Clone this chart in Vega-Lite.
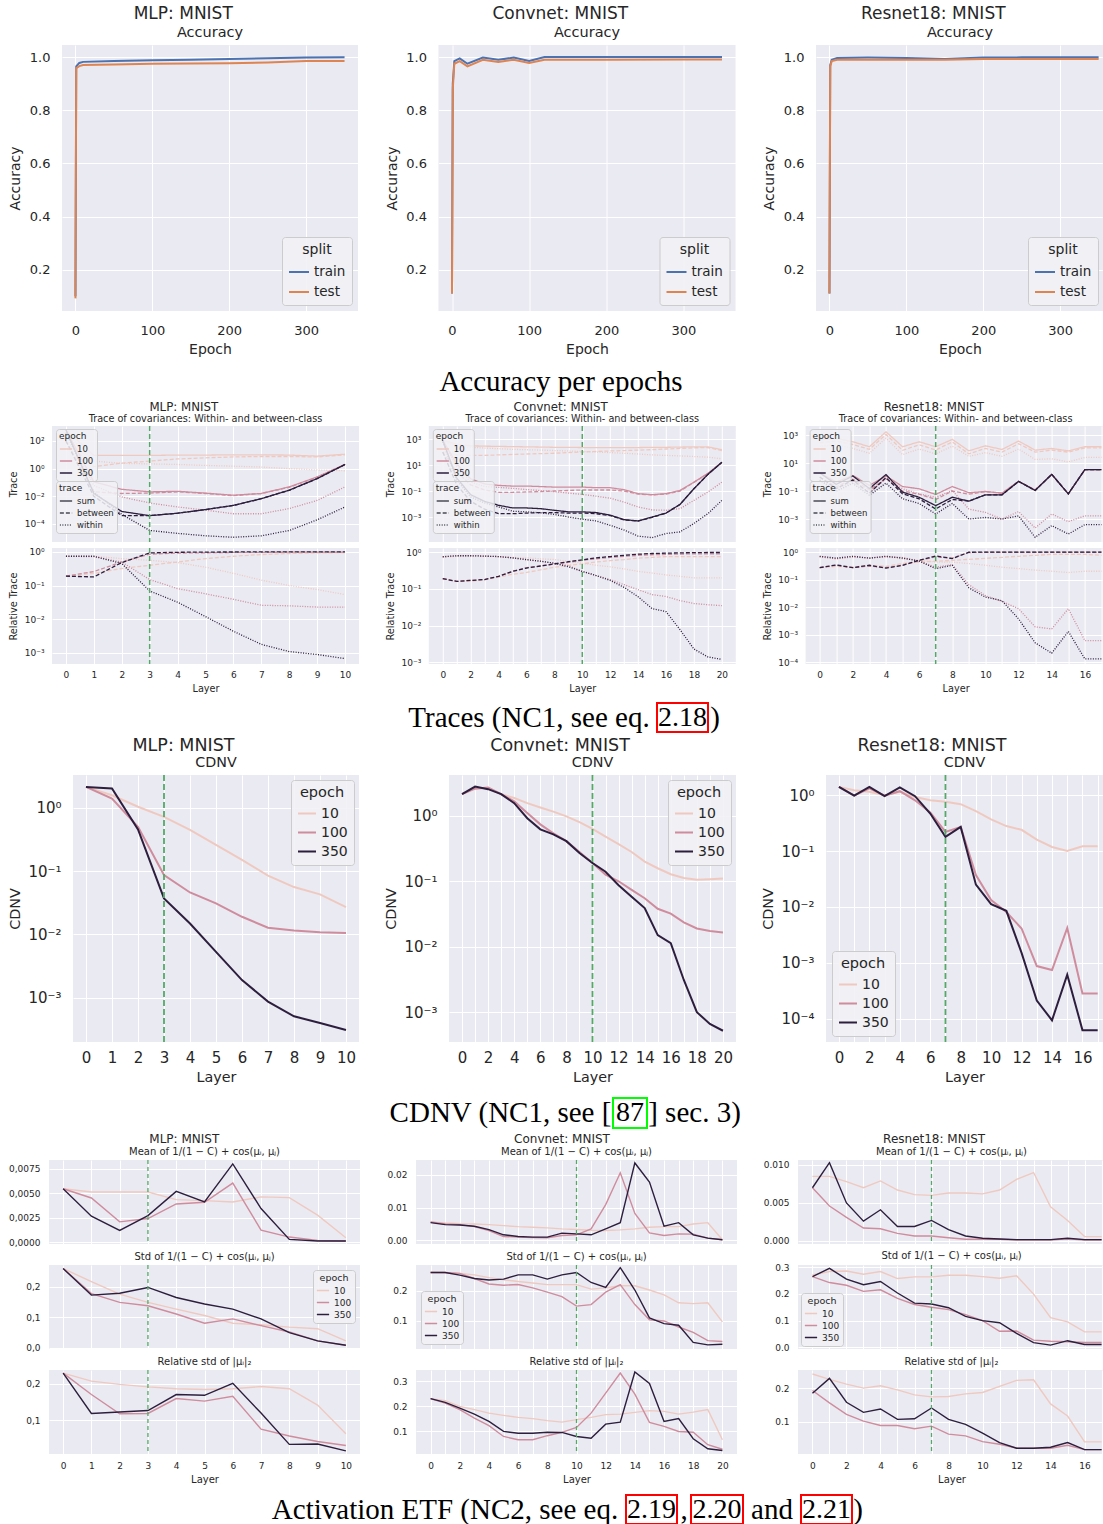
{
"$schema": "https://vega.github.io/schema/vega-lite/v6.json",
"background": "white",
"padding": {"left": 0, "top": 4, "right": 0, "bottom": 0},
"spacing": 4,
"resolve": {"scale": {"color": "independent", "strokeDash": "independent"}, "legend": {"color": "independent", "strokeDash": "independent"}},
"datasets": {
"acc": [
{"net":"MLP","split":"train","epoch":0,"value":0.1},{"net":"MLP","split":"train","epoch":1,"value":0.965},{"net":"MLP","split":"train","epoch":5,"value":0.978},{"net":"MLP","split":"train","epoch":10,"value":0.982},{"net":"MLP","split":"train","epoch":50,"value":0.985},{"net":"MLP","split":"train","epoch":100,"value":0.988},{"net":"MLP","split":"train","epoch":150,"value":0.99},{"net":"MLP","split":"train","epoch":200,"value":0.993},{"net":"MLP","split":"train","epoch":250,"value":0.996},{"net":"MLP","split":"train","epoch":300,"value":0.998},{"net":"MLP","split":"train","epoch":350,"value":0.999},
{"net":"MLP","split":"test","epoch":0,"value":0.092},{"net":"MLP","split":"test","epoch":1,"value":0.958},{"net":"MLP","split":"test","epoch":5,"value":0.966},{"net":"MLP","split":"test","epoch":10,"value":0.97},{"net":"MLP","split":"test","epoch":50,"value":0.972},{"net":"MLP","split":"test","epoch":100,"value":0.975},{"net":"MLP","split":"test","epoch":150,"value":0.976},{"net":"MLP","split":"test","epoch":200,"value":0.977},{"net":"MLP","split":"test","epoch":250,"value":0.98},{"net":"MLP","split":"test","epoch":300,"value":0.985},{"net":"MLP","split":"test","epoch":350,"value":0.985},
{"net":"Convnet","split":"train","epoch":0,"value":0.11},{"net":"Convnet","split":"train","epoch":1,"value":0.9},{"net":"Convnet","split":"train","epoch":3,"value":0.985},{"net":"Convnet","split":"train","epoch":10,"value":0.995},{"net":"Convnet","split":"train","epoch":20,"value":0.975},{"net":"Convnet","split":"train","epoch":40,"value":0.998},{"net":"Convnet","split":"train","epoch":60,"value":0.99},{"net":"Convnet","split":"train","epoch":80,"value":0.998},{"net":"Convnet","split":"train","epoch":100,"value":0.985},{"net":"Convnet","split":"train","epoch":120,"value":1.0},{"net":"Convnet","split":"train","epoch":200,"value":1.0},{"net":"Convnet","split":"train","epoch":300,"value":1.0},{"net":"Convnet","split":"train","epoch":350,"value":1.0},
{"net":"Convnet","split":"test","epoch":0,"value":0.11},{"net":"Convnet","split":"test","epoch":1,"value":0.88},{"net":"Convnet","split":"test","epoch":3,"value":0.975},{"net":"Convnet","split":"test","epoch":10,"value":0.985},{"net":"Convnet","split":"test","epoch":20,"value":0.965},{"net":"Convnet","split":"test","epoch":40,"value":0.99},{"net":"Convnet","split":"test","epoch":60,"value":0.982},{"net":"Convnet","split":"test","epoch":80,"value":0.99},{"net":"Convnet","split":"test","epoch":100,"value":0.978},{"net":"Convnet","split":"test","epoch":120,"value":0.99},{"net":"Convnet","split":"test","epoch":200,"value":0.99},{"net":"Convnet","split":"test","epoch":300,"value":0.991},{"net":"Convnet","split":"test","epoch":350,"value":0.991},
{"net":"Resnet18","split":"train","epoch":0,"value":0.11},{"net":"Resnet18","split":"train","epoch":1,"value":0.97},{"net":"Resnet18","split":"train","epoch":3,"value":0.99},{"net":"Resnet18","split":"train","epoch":10,"value":0.997},{"net":"Resnet18","split":"train","epoch":50,"value":0.998},{"net":"Resnet18","split":"train","epoch":100,"value":0.997},{"net":"Resnet18","split":"train","epoch":150,"value":0.993},{"net":"Resnet18","split":"train","epoch":200,"value":0.998},{"net":"Resnet18","split":"train","epoch":250,"value":0.999},{"net":"Resnet18","split":"train","epoch":350,"value":0.999},
{"net":"Resnet18","split":"test","epoch":0,"value":0.11},{"net":"Resnet18","split":"test","epoch":1,"value":0.965},{"net":"Resnet18","split":"test","epoch":3,"value":0.985},{"net":"Resnet18","split":"test","epoch":10,"value":0.99},{"net":"Resnet18","split":"test","epoch":50,"value":0.99},{"net":"Resnet18","split":"test","epoch":100,"value":0.99},{"net":"Resnet18","split":"test","epoch":150,"value":0.99},{"net":"Resnet18","split":"test","epoch":200,"value":0.993},{"net":"Resnet18","split":"test","epoch":250,"value":0.993},{"net":"Resnet18","split":"test","epoch":350,"value":0.993}
],
"trace_MLP": [
{"epoch":10,"kind":"sum","layer":0,"value":630},{"epoch":10,"kind":"sum","layer":1,"value":9},{"epoch":10,"kind":"sum","layer":2,"value":9},{"epoch":10,"kind":"sum","layer":3,"value":9},{"epoch":10,"kind":"sum","layer":4,"value":9.5},{"epoch":10,"kind":"sum","layer":5,"value":9.5},{"epoch":10,"kind":"sum","layer":6,"value":10},{"epoch":10,"kind":"sum","layer":7,"value":10},{"epoch":10,"kind":"sum","layer":8,"value":9.5},{"epoch":10,"kind":"sum","layer":9,"value":8},{"epoch":10,"kind":"sum","layer":10,"value":11},
{"epoch":10,"kind":"between","layer":0,"value":100},{"epoch":10,"kind":"between","layer":1,"value":1.4},{"epoch":10,"kind":"between","layer":2,"value":2.5},{"epoch":10,"kind":"between","layer":3,"value":3.5},{"epoch":10,"kind":"between","layer":4,"value":5},{"epoch":10,"kind":"between","layer":5,"value":6},{"epoch":10,"kind":"between","layer":6,"value":7},{"epoch":10,"kind":"between","layer":7,"value":7.5},{"epoch":10,"kind":"between","layer":8,"value":7.5},{"epoch":10,"kind":"between","layer":9,"value":7},{"epoch":10,"kind":"between","layer":10,"value":10},
{"epoch":10,"kind":"within","layer":0,"value":400},{"epoch":10,"kind":"within","layer":1,"value":3.5},{"epoch":10,"kind":"within","layer":2,"value":2.4},{"epoch":10,"kind":"within","layer":3,"value":2.2},{"epoch":10,"kind":"within","layer":4,"value":2.0},{"epoch":10,"kind":"within","layer":5,"value":1.7},{"epoch":10,"kind":"within","layer":6,"value":1.5},{"epoch":10,"kind":"within","layer":7,"value":1.3},{"epoch":10,"kind":"within","layer":8,"value":1.0},{"epoch":10,"kind":"within","layer":9,"value":0.8},{"epoch":10,"kind":"within","layer":10,"value":0.7},
{"epoch":100,"kind":"sum","layer":0,"value":630},{"epoch":100,"kind":"sum","layer":1,"value":0.11},{"epoch":100,"kind":"sum","layer":2,"value":0.032},{"epoch":100,"kind":"sum","layer":3,"value":0.021},{"epoch":100,"kind":"sum","layer":4,"value":0.023},{"epoch":100,"kind":"sum","layer":5,"value":0.017},{"epoch":100,"kind":"sum","layer":6,"value":0.012},{"epoch":100,"kind":"sum","layer":7,"value":0.016},{"epoch":100,"kind":"sum","layer":8,"value":0.048},{"epoch":100,"kind":"sum","layer":9,"value":0.25},{"epoch":100,"kind":"sum","layer":10,"value":2.0},
{"epoch":100,"kind":"between","layer":0,"value":100},{"epoch":100,"kind":"between","layer":1,"value":0.021},{"epoch":100,"kind":"between","layer":2,"value":0.016},{"epoch":100,"kind":"between","layer":3,"value":0.017},{"epoch":100,"kind":"between","layer":4,"value":0.021},{"epoch":100,"kind":"between","layer":5,"value":0.016},{"epoch":100,"kind":"between","layer":6,"value":0.011},{"epoch":100,"kind":"between","layer":7,"value":0.016},{"epoch":100,"kind":"between","layer":8,"value":0.045},{"epoch":100,"kind":"between","layer":9,"value":0.24},{"epoch":100,"kind":"between","layer":10,"value":2.0},
{"epoch":100,"kind":"within","layer":0,"value":400},{"epoch":100,"kind":"within","layer":1,"value":0.06},{"epoch":100,"kind":"within","layer":2,"value":0.009},{"epoch":100,"kind":"within","layer":3,"value":0.0033},{"epoch":100,"kind":"within","layer":4,"value":0.0017},{"epoch":100,"kind":"within","layer":5,"value":0.001},{"epoch":100,"kind":"within","layer":6,"value":0.00055},{"epoch":100,"kind":"within","layer":7,"value":0.00055},{"epoch":100,"kind":"within","layer":8,"value":0.0013},{"epoch":100,"kind":"within","layer":9,"value":0.005},{"epoch":100,"kind":"within","layer":10,"value":0.048},
{"epoch":350,"kind":"sum","layer":0,"value":630},{"epoch":350,"kind":"sum","layer":1,"value":0.016},{"epoch":350,"kind":"sum","layer":2,"value":0.0008},{"epoch":350,"kind":"sum","layer":3,"value":0.0004},{"epoch":350,"kind":"sum","layer":4,"value":0.0006},{"epoch":350,"kind":"sum","layer":5,"value":0.0011},{"epoch":350,"kind":"sum","layer":6,"value":0.0022},{"epoch":350,"kind":"sum","layer":7,"value":0.0068},{"epoch":350,"kind":"sum","layer":8,"value":0.028},{"epoch":350,"kind":"sum","layer":9,"value":0.19},{"epoch":350,"kind":"sum","layer":10,"value":2.0},
{"epoch":350,"kind":"between","layer":0,"value":100},{"epoch":350,"kind":"between","layer":1,"value":0.01},{"epoch":350,"kind":"between","layer":2,"value":0.0004},{"epoch":350,"kind":"between","layer":3,"value":0.0004},{"epoch":350,"kind":"between","layer":4,"value":0.0006},{"epoch":350,"kind":"between","layer":5,"value":0.0011},{"epoch":350,"kind":"between","layer":6,"value":0.0022},{"epoch":350,"kind":"between","layer":7,"value":0.0067},{"epoch":350,"kind":"between","layer":8,"value":0.027},{"epoch":350,"kind":"between","layer":9,"value":0.19},{"epoch":350,"kind":"between","layer":10,"value":2.0},
{"epoch":350,"kind":"within","layer":0,"value":400},{"epoch":350,"kind":"within","layer":1,"value":0.02},{"epoch":350,"kind":"within","layer":2,"value":0.0005},{"epoch":350,"kind":"within","layer":3,"value":0.000034},{"epoch":350,"kind":"within","layer":4,"value":0.000021},{"epoch":350,"kind":"within","layer":5,"value":0.000014},{"epoch":350,"kind":"within","layer":6,"value":0.000011},{"epoch":350,"kind":"within","layer":7,"value":0.000014},{"epoch":350,"kind":"within","layer":8,"value":0.000034},{"epoch":350,"kind":"within","layer":9,"value":0.0002},{"epoch":350,"kind":"within","layer":10,"value":0.0017}
],
"rel_MLP": [
{"epoch":10,"kind":"between","layer":0,"value":0.19},{"epoch":10,"kind":"between","layer":1,"value":0.23},{"epoch":10,"kind":"between","layer":2,"value":0.32},{"epoch":10,"kind":"between","layer":3,"value":0.4},{"epoch":10,"kind":"between","layer":4,"value":0.5},{"epoch":10,"kind":"between","layer":5,"value":0.63},{"epoch":10,"kind":"between","layer":6,"value":0.74},{"epoch":10,"kind":"between","layer":7,"value":0.83},{"epoch":10,"kind":"between","layer":8,"value":0.89},{"epoch":10,"kind":"between","layer":9,"value":0.93},{"epoch":10,"kind":"between","layer":10,"value":0.95},
{"epoch":10,"kind":"within","layer":0,"value":0.74},{"epoch":10,"kind":"within","layer":1,"value":0.74},{"epoch":10,"kind":"within","layer":2,"value":0.63},{"epoch":10,"kind":"within","layer":3,"value":0.56},{"epoch":10,"kind":"within","layer":4,"value":0.48},{"epoch":10,"kind":"within","layer":5,"value":0.35},{"epoch":10,"kind":"within","layer":6,"value":0.23},{"epoch":10,"kind":"within","layer":7,"value":0.145},{"epoch":10,"kind":"within","layer":8,"value":0.1},{"epoch":10,"kind":"within","layer":9,"value":0.076},{"epoch":10,"kind":"within","layer":10,"value":0.054},
{"epoch":100,"kind":"between","layer":0,"value":0.19},{"epoch":100,"kind":"between","layer":1,"value":0.26},{"epoch":100,"kind":"between","layer":2,"value":0.5},{"epoch":100,"kind":"between","layer":3,"value":0.85},{"epoch":100,"kind":"between","layer":4,"value":0.92},{"epoch":100,"kind":"between","layer":5,"value":0.94},{"epoch":100,"kind":"between","layer":6,"value":0.96},{"epoch":100,"kind":"between","layer":7,"value":0.97},{"epoch":100,"kind":"between","layer":8,"value":0.975},{"epoch":100,"kind":"between","layer":9,"value":0.975},{"epoch":100,"kind":"between","layer":10,"value":0.975},
{"epoch":100,"kind":"within","layer":0,"value":0.74},{"epoch":100,"kind":"within","layer":1,"value":0.72},{"epoch":100,"kind":"within","layer":2,"value":0.5},{"epoch":100,"kind":"within","layer":3,"value":0.15},{"epoch":100,"kind":"within","layer":4,"value":0.081},{"epoch":100,"kind":"within","layer":5,"value":0.057},{"epoch":100,"kind":"within","layer":6,"value":0.039},{"epoch":100,"kind":"within","layer":7,"value":0.026},{"epoch":100,"kind":"within","layer":8,"value":0.025},{"epoch":100,"kind":"within","layer":9,"value":0.023},{"epoch":100,"kind":"within","layer":10,"value":0.023},
{"epoch":350,"kind":"between","layer":0,"value":0.19},{"epoch":350,"kind":"between","layer":1,"value":0.18},{"epoch":350,"kind":"between","layer":2,"value":0.48},{"epoch":350,"kind":"between","layer":3,"value":0.93},{"epoch":350,"kind":"between","layer":4,"value":0.97},{"epoch":350,"kind":"between","layer":5,"value":0.985},{"epoch":350,"kind":"between","layer":6,"value":0.99},{"epoch":350,"kind":"between","layer":7,"value":0.995},{"epoch":350,"kind":"between","layer":8,"value":0.995},{"epoch":350,"kind":"between","layer":9,"value":0.995},{"epoch":350,"kind":"between","layer":10,"value":0.995},
{"epoch":350,"kind":"within","layer":0,"value":0.74},{"epoch":350,"kind":"within","layer":1,"value":0.74},{"epoch":350,"kind":"within","layer":2,"value":0.45},{"epoch":350,"kind":"within","layer":3,"value":0.069},{"epoch":350,"kind":"within","layer":4,"value":0.032},{"epoch":350,"kind":"within","layer":5,"value":0.012},{"epoch":350,"kind":"within","layer":6,"value":0.0044},{"epoch":350,"kind":"within","layer":7,"value":0.0018},{"epoch":350,"kind":"within","layer":8,"value":0.0011},{"epoch":350,"kind":"within","layer":9,"value":0.0009},{"epoch":350,"kind":"within","layer":10,"value":0.00068}
],
"trace_Convnet": [
{"epoch":10,"kind":"sum","layer":0,"value":800},{"epoch":10,"kind":"sum","layer":1,"value":400},{"epoch":10,"kind":"sum","layer":2,"value":300},{"epoch":10,"kind":"sum","layer":3,"value":280},{"epoch":10,"kind":"sum","layer":4,"value":270},{"epoch":10,"kind":"sum","layer":5,"value":260},{"epoch":10,"kind":"sum","layer":6,"value":250},{"epoch":10,"kind":"sum","layer":7,"value":240},{"epoch":10,"kind":"sum","layer":8,"value":230},{"epoch":10,"kind":"sum","layer":9,"value":230},{"epoch":10,"kind":"sum","layer":10,"value":220},{"epoch":10,"kind":"sum","layer":11,"value":220},{"epoch":10,"kind":"sum","layer":12,"value":220},{"epoch":10,"kind":"sum","layer":13,"value":220},{"epoch":10,"kind":"sum","layer":14,"value":220},{"epoch":10,"kind":"sum","layer":15,"value":230},{"epoch":10,"kind":"sum","layer":16,"value":230},{"epoch":10,"kind":"sum","layer":17,"value":240},{"epoch":10,"kind":"sum","layer":18,"value":250},{"epoch":10,"kind":"sum","layer":19,"value":250},{"epoch":10,"kind":"sum","layer":20,"value":150},
{"epoch":10,"kind":"between","layer":0,"value":100},{"epoch":10,"kind":"between","layer":1,"value":60},{"epoch":10,"kind":"between","layer":2,"value":55},{"epoch":10,"kind":"between","layer":3,"value":55},{"epoch":10,"kind":"between","layer":4,"value":60},{"epoch":10,"kind":"between","layer":5,"value":65},{"epoch":10,"kind":"between","layer":6,"value":70},{"epoch":10,"kind":"between","layer":7,"value":75},{"epoch":10,"kind":"between","layer":8,"value":80},{"epoch":10,"kind":"between","layer":9,"value":90},{"epoch":10,"kind":"between","layer":10,"value":100},{"epoch":10,"kind":"between","layer":11,"value":110},{"epoch":10,"kind":"between","layer":12,"value":120},{"epoch":10,"kind":"between","layer":13,"value":130},{"epoch":10,"kind":"between","layer":14,"value":140},{"epoch":10,"kind":"between","layer":15,"value":150},{"epoch":10,"kind":"between","layer":16,"value":170},{"epoch":10,"kind":"between","layer":17,"value":190},{"epoch":10,"kind":"between","layer":18,"value":210},{"epoch":10,"kind":"between","layer":19,"value":220},{"epoch":10,"kind":"between","layer":20,"value":130},
{"epoch":10,"kind":"within","layer":0,"value":600},{"epoch":10,"kind":"within","layer":1,"value":300},{"epoch":10,"kind":"within","layer":2,"value":230},{"epoch":10,"kind":"within","layer":3,"value":200},{"epoch":10,"kind":"within","layer":4,"value":180},{"epoch":10,"kind":"within","layer":5,"value":160},{"epoch":10,"kind":"within","layer":6,"value":150},{"epoch":10,"kind":"within","layer":7,"value":140},{"epoch":10,"kind":"within","layer":8,"value":130},{"epoch":10,"kind":"within","layer":9,"value":120},{"epoch":10,"kind":"within","layer":10,"value":110},{"epoch":10,"kind":"within","layer":11,"value":100},{"epoch":10,"kind":"within","layer":12,"value":90},{"epoch":10,"kind":"within","layer":13,"value":80},{"epoch":10,"kind":"within","layer":14,"value":70},{"epoch":10,"kind":"within","layer":15,"value":60},{"epoch":10,"kind":"within","layer":16,"value":55},{"epoch":10,"kind":"within","layer":17,"value":50},{"epoch":10,"kind":"within","layer":18,"value":45},{"epoch":10,"kind":"within","layer":19,"value":40},{"epoch":10,"kind":"within","layer":20,"value":30},
{"epoch":100,"kind":"sum","layer":0,"value":800},{"epoch":100,"kind":"sum","layer":1,"value":12},{"epoch":100,"kind":"sum","layer":2,"value":0.87},{"epoch":100,"kind":"sum","layer":3,"value":0.35},{"epoch":100,"kind":"sum","layer":4,"value":0.27},{"epoch":100,"kind":"sum","layer":5,"value":0.24},{"epoch":100,"kind":"sum","layer":6,"value":0.24},{"epoch":100,"kind":"sum","layer":7,"value":0.22},{"epoch":100,"kind":"sum","layer":8,"value":0.2},{"epoch":100,"kind":"sum","layer":9,"value":0.2},{"epoch":100,"kind":"sum","layer":10,"value":0.2},{"epoch":100,"kind":"sum","layer":11,"value":0.18},{"epoch":100,"kind":"sum","layer":12,"value":0.18},{"epoch":100,"kind":"sum","layer":13,"value":0.126},{"epoch":100,"kind":"sum","layer":14,"value":0.063},{"epoch":100,"kind":"sum","layer":15,"value":0.052},{"epoch":100,"kind":"sum","layer":16,"value":0.063},{"epoch":100,"kind":"sum","layer":17,"value":0.11},{"epoch":100,"kind":"sum","layer":18,"value":0.48},{"epoch":100,"kind":"sum","layer":19,"value":2.3},{"epoch":100,"kind":"sum","layer":20,"value":16},
{"epoch":100,"kind":"between","layer":0,"value":100},{"epoch":100,"kind":"between","layer":1,"value":3},{"epoch":100,"kind":"between","layer":2,"value":0.3},{"epoch":100,"kind":"between","layer":3,"value":0.12},{"epoch":100,"kind":"between","layer":4,"value":0.08},{"epoch":100,"kind":"between","layer":5,"value":0.08},{"epoch":100,"kind":"between","layer":6,"value":0.085},{"epoch":100,"kind":"between","layer":7,"value":0.09},{"epoch":100,"kind":"between","layer":8,"value":0.1},{"epoch":100,"kind":"between","layer":9,"value":0.11},{"epoch":100,"kind":"between","layer":10,"value":0.12},{"epoch":100,"kind":"between","layer":11,"value":0.12},{"epoch":100,"kind":"between","layer":12,"value":0.12},{"epoch":100,"kind":"between","layer":13,"value":0.1},{"epoch":100,"kind":"between","layer":14,"value":0.058},{"epoch":100,"kind":"between","layer":15,"value":0.05},{"epoch":100,"kind":"between","layer":16,"value":0.058},{"epoch":100,"kind":"between","layer":17,"value":0.1},{"epoch":100,"kind":"between","layer":18,"value":0.46},{"epoch":100,"kind":"between","layer":19,"value":2.2},{"epoch":100,"kind":"between","layer":20,"value":16},
{"epoch":100,"kind":"within","layer":0,"value":600},{"epoch":100,"kind":"within","layer":1,"value":8},{"epoch":100,"kind":"within","layer":2,"value":0.5},{"epoch":100,"kind":"within","layer":3,"value":0.22},{"epoch":100,"kind":"within","layer":4,"value":0.19},{"epoch":100,"kind":"within","layer":5,"value":0.16},{"epoch":100,"kind":"within","layer":6,"value":0.13},{"epoch":100,"kind":"within","layer":7,"value":0.11},{"epoch":100,"kind":"within","layer":8,"value":0.09},{"epoch":100,"kind":"within","layer":9,"value":0.07},{"epoch":100,"kind":"within","layer":10,"value":0.055},{"epoch":100,"kind":"within","layer":11,"value":0.04},{"epoch":100,"kind":"within","layer":12,"value":0.028},{"epoch":100,"kind":"within","layer":13,"value":0.014},{"epoch":100,"kind":"within","layer":14,"value":0.0059},{"epoch":100,"kind":"within","layer":15,"value":0.0035},{"epoch":100,"kind":"within","layer":16,"value":0.0033},{"epoch":100,"kind":"within","layer":17,"value":0.0044},{"epoch":100,"kind":"within","layer":18,"value":0.019},{"epoch":100,"kind":"within","layer":19,"value":0.083},{"epoch":100,"kind":"within","layer":20,"value":0.48},
{"epoch":350,"kind":"sum","layer":0,"value":800},{"epoch":350,"kind":"sum","layer":1,"value":1.0},{"epoch":350,"kind":"sum","layer":2,"value":0.052},{"epoch":350,"kind":"sum","layer":3,"value":0.016},{"epoch":350,"kind":"sum","layer":4,"value":0.008},{"epoch":350,"kind":"sum","layer":5,"value":0.005},{"epoch":350,"kind":"sum","layer":6,"value":0.005},{"epoch":350,"kind":"sum","layer":7,"value":0.0044},{"epoch":350,"kind":"sum","layer":8,"value":0.0033},{"epoch":350,"kind":"sum","layer":9,"value":0.0025},{"epoch":350,"kind":"sum","layer":10,"value":0.0025},{"epoch":350,"kind":"sum","layer":11,"value":0.0022},{"epoch":350,"kind":"sum","layer":12,"value":0.0014},{"epoch":350,"kind":"sum","layer":13,"value":0.00063},{"epoch":350,"kind":"sum","layer":14,"value":0.0005},{"epoch":350,"kind":"sum","layer":15,"value":0.001},{"epoch":350,"kind":"sum","layer":16,"value":0.002},{"epoch":350,"kind":"sum","layer":17,"value":0.0093},{"epoch":350,"kind":"sum","layer":18,"value":0.15},{"epoch":350,"kind":"sum","layer":19,"value":1.9},{"epoch":350,"kind":"sum","layer":20,"value":16},
{"epoch":350,"kind":"between","layer":0,"value":100},{"epoch":350,"kind":"between","layer":1,"value":0.3},{"epoch":350,"kind":"between","layer":2,"value":0.016},{"epoch":350,"kind":"between","layer":3,"value":0.004},{"epoch":350,"kind":"between","layer":4,"value":0.0018},{"epoch":350,"kind":"between","layer":5,"value":0.0018},{"epoch":350,"kind":"between","layer":6,"value":0.002},{"epoch":350,"kind":"between","layer":7,"value":0.0022},{"epoch":350,"kind":"between","layer":8,"value":0.0022},{"epoch":350,"kind":"between","layer":9,"value":0.002},{"epoch":350,"kind":"between","layer":10,"value":0.002},{"epoch":350,"kind":"between","layer":11,"value":0.0018},{"epoch":350,"kind":"between","layer":12,"value":0.0013},{"epoch":350,"kind":"between","layer":13,"value":0.0006},{"epoch":350,"kind":"between","layer":14,"value":0.00048},{"epoch":350,"kind":"between","layer":15,"value":0.00095},{"epoch":350,"kind":"between","layer":16,"value":0.002},{"epoch":350,"kind":"between","layer":17,"value":0.0093},{"epoch":350,"kind":"between","layer":18,"value":0.15},{"epoch":350,"kind":"between","layer":19,"value":1.9},{"epoch":350,"kind":"between","layer":20,"value":16},
{"epoch":350,"kind":"within","layer":0,"value":600},{"epoch":350,"kind":"within","layer":1,"value":0.7},{"epoch":350,"kind":"within","layer":2,"value":0.035},{"epoch":350,"kind":"within","layer":3,"value":0.012},{"epoch":350,"kind":"within","layer":4,"value":0.006},{"epoch":350,"kind":"within","layer":5,"value":0.0028},{"epoch":350,"kind":"within","layer":6,"value":0.0025},{"epoch":350,"kind":"within","layer":7,"value":0.0021},{"epoch":350,"kind":"within","layer":8,"value":0.0016},{"epoch":350,"kind":"within","layer":9,"value":0.001},{"epoch":350,"kind":"within","layer":10,"value":0.00068},{"epoch":350,"kind":"within","layer":11,"value":0.0005},{"epoch":350,"kind":"within","layer":12,"value":0.00023},{"epoch":350,"kind":"within","layer":13,"value":0.0001},{"epoch":350,"kind":"within","layer":14,"value":0.000034},{"epoch":350,"kind":"within","layer":15,"value":0.000026},{"epoch":350,"kind":"within","layer":16,"value":0.000054},{"epoch":350,"kind":"within","layer":17,"value":0.000072},{"epoch":350,"kind":"within","layer":18,"value":0.00032},{"epoch":350,"kind":"within","layer":19,"value":0.0018},{"epoch":350,"kind":"within","layer":20,"value":0.019}
],
"rel_Convnet": [
{"epoch":10,"kind":"between","layer":0,"value":0.19},{"epoch":10,"kind":"between","layer":1,"value":0.16},{"epoch":10,"kind":"between","layer":2,"value":0.16},{"epoch":10,"kind":"between","layer":3,"value":0.18},{"epoch":10,"kind":"between","layer":4,"value":0.21},{"epoch":10,"kind":"between","layer":5,"value":0.25},{"epoch":10,"kind":"between","layer":6,"value":0.28},{"epoch":10,"kind":"between","layer":7,"value":0.33},{"epoch":10,"kind":"between","layer":8,"value":0.39},{"epoch":10,"kind":"between","layer":9,"value":0.44},{"epoch":10,"kind":"between","layer":10,"value":0.48},{"epoch":10,"kind":"between","layer":11,"value":0.54},{"epoch":10,"kind":"between","layer":12,"value":0.59},{"epoch":10,"kind":"between","layer":13,"value":0.63},{"epoch":10,"kind":"between","layer":14,"value":0.69},{"epoch":10,"kind":"between","layer":15,"value":0.72},{"epoch":10,"kind":"between","layer":16,"value":0.76},{"epoch":10,"kind":"between","layer":17,"value":0.76},{"epoch":10,"kind":"between","layer":18,"value":0.76},{"epoch":10,"kind":"between","layer":19,"value":0.76},{"epoch":10,"kind":"between","layer":20,"value":0.76},
{"epoch":10,"kind":"within","layer":0,"value":0.72},{"epoch":10,"kind":"within","layer":1,"value":0.78},{"epoch":10,"kind":"within","layer":2,"value":0.8},{"epoch":10,"kind":"within","layer":3,"value":0.78},{"epoch":10,"kind":"within","layer":4,"value":0.76},{"epoch":10,"kind":"within","layer":5,"value":0.72},{"epoch":10,"kind":"within","layer":6,"value":0.7},{"epoch":10,"kind":"within","layer":7,"value":0.66},{"epoch":10,"kind":"within","layer":8,"value":0.63},{"epoch":10,"kind":"within","layer":9,"value":0.56},{"epoch":10,"kind":"within","layer":10,"value":0.5},{"epoch":10,"kind":"within","layer":11,"value":0.44},{"epoch":10,"kind":"within","layer":12,"value":0.4},{"epoch":10,"kind":"within","layer":13,"value":0.35},{"epoch":10,"kind":"within","layer":14,"value":0.3},{"epoch":10,"kind":"within","layer":15,"value":0.27},{"epoch":10,"kind":"within","layer":16,"value":0.24},{"epoch":10,"kind":"within","layer":17,"value":0.22},{"epoch":10,"kind":"within","layer":18,"value":0.2},{"epoch":10,"kind":"within","layer":19,"value":0.2},{"epoch":10,"kind":"within","layer":20,"value":0.2},
{"epoch":100,"kind":"between","layer":0,"value":0.19},{"epoch":100,"kind":"between","layer":1,"value":0.16},{"epoch":100,"kind":"between","layer":2,"value":0.17},{"epoch":100,"kind":"between","layer":3,"value":0.18},{"epoch":100,"kind":"between","layer":4,"value":0.22},{"epoch":100,"kind":"between","layer":5,"value":0.3},{"epoch":100,"kind":"between","layer":6,"value":0.38},{"epoch":100,"kind":"between","layer":7,"value":0.42},{"epoch":100,"kind":"between","layer":8,"value":0.47},{"epoch":100,"kind":"between","layer":9,"value":0.53},{"epoch":100,"kind":"between","layer":10,"value":0.6},{"epoch":100,"kind":"between","layer":11,"value":0.66},{"epoch":100,"kind":"between","layer":12,"value":0.72},{"epoch":100,"kind":"between","layer":13,"value":0.77},{"epoch":100,"kind":"between","layer":14,"value":0.82},{"epoch":100,"kind":"between","layer":15,"value":0.85},{"epoch":100,"kind":"between","layer":16,"value":0.87},{"epoch":100,"kind":"between","layer":17,"value":0.89},{"epoch":100,"kind":"between","layer":18,"value":0.9},{"epoch":100,"kind":"between","layer":19,"value":0.9},{"epoch":100,"kind":"between","layer":20,"value":0.9},
{"epoch":100,"kind":"within","layer":0,"value":0.75},{"epoch":100,"kind":"within","layer":1,"value":0.8},{"epoch":100,"kind":"within","layer":2,"value":0.8},{"epoch":100,"kind":"within","layer":3,"value":0.78},{"epoch":100,"kind":"within","layer":4,"value":0.76},{"epoch":100,"kind":"within","layer":5,"value":0.7},{"epoch":100,"kind":"within","layer":6,"value":0.62},{"epoch":100,"kind":"within","layer":7,"value":0.56},{"epoch":100,"kind":"within","layer":8,"value":0.5},{"epoch":100,"kind":"within","layer":9,"value":0.43},{"epoch":100,"kind":"within","layer":10,"value":0.3},{"epoch":100,"kind":"within","layer":11,"value":0.23},{"epoch":100,"kind":"within","layer":12,"value":0.18},{"epoch":100,"kind":"within","layer":13,"value":0.13},{"epoch":100,"kind":"within","layer":14,"value":0.095},{"epoch":100,"kind":"within","layer":15,"value":0.07},{"epoch":100,"kind":"within","layer":16,"value":0.062},{"epoch":100,"kind":"within","layer":17,"value":0.048},{"epoch":100,"kind":"within","layer":18,"value":0.04},{"epoch":100,"kind":"within","layer":19,"value":0.037},{"epoch":100,"kind":"within","layer":20,"value":0.035},
{"epoch":350,"kind":"between","layer":0,"value":0.19},{"epoch":350,"kind":"between","layer":1,"value":0.16},{"epoch":350,"kind":"between","layer":2,"value":0.17},{"epoch":350,"kind":"between","layer":3,"value":0.18},{"epoch":350,"kind":"between","layer":4,"value":0.22},{"epoch":350,"kind":"between","layer":5,"value":0.3},{"epoch":350,"kind":"between","layer":6,"value":0.37},{"epoch":350,"kind":"between","layer":7,"value":0.42},{"epoch":350,"kind":"between","layer":8,"value":0.48},{"epoch":350,"kind":"between","layer":9,"value":0.55},{"epoch":350,"kind":"between","layer":10,"value":0.62},{"epoch":350,"kind":"between","layer":11,"value":0.7},{"epoch":350,"kind":"between","layer":12,"value":0.76},{"epoch":350,"kind":"between","layer":13,"value":0.82},{"epoch":350,"kind":"between","layer":14,"value":0.88},{"epoch":350,"kind":"between","layer":15,"value":0.92},{"epoch":350,"kind":"between","layer":16,"value":0.94},{"epoch":350,"kind":"between","layer":17,"value":0.96},{"epoch":350,"kind":"between","layer":18,"value":0.97},{"epoch":350,"kind":"between","layer":19,"value":0.98},{"epoch":350,"kind":"between","layer":20,"value":0.98},
{"epoch":350,"kind":"within","layer":0,"value":0.75},{"epoch":350,"kind":"within","layer":1,"value":0.8},{"epoch":350,"kind":"within","layer":2,"value":0.8},{"epoch":350,"kind":"within","layer":3,"value":0.78},{"epoch":350,"kind":"within","layer":4,"value":0.76},{"epoch":350,"kind":"within","layer":5,"value":0.7},{"epoch":350,"kind":"within","layer":6,"value":0.63},{"epoch":350,"kind":"within","layer":7,"value":0.57},{"epoch":350,"kind":"within","layer":8,"value":0.5},{"epoch":350,"kind":"within","layer":9,"value":0.4},{"epoch":350,"kind":"within","layer":10,"value":0.3},{"epoch":350,"kind":"within","layer":11,"value":0.23},{"epoch":350,"kind":"within","layer":12,"value":0.17},{"epoch":350,"kind":"within","layer":13,"value":0.11},{"epoch":350,"kind":"within","layer":14,"value":0.061},{"epoch":350,"kind":"within","layer":15,"value":0.029},{"epoch":350,"kind":"within","layer":16,"value":0.024},{"epoch":350,"kind":"within","layer":17,"value":0.0078},{"epoch":350,"kind":"within","layer":18,"value":0.0023},{"epoch":350,"kind":"within","layer":19,"value":0.0014},{"epoch":350,"kind":"within","layer":20,"value":0.0012}
],
"trace_Resnet18": [
{"epoch":10,"kind":"sum","layer":0,"value":440},{"epoch":10,"kind":"sum","layer":1,"value":580},{"epoch":10,"kind":"sum","layer":2,"value":330},{"epoch":10,"kind":"sum","layer":3,"value":145},{"epoch":10,"kind":"sum","layer":4,"value":1700},{"epoch":10,"kind":"sum","layer":5,"value":145},{"epoch":10,"kind":"sum","layer":6,"value":330},{"epoch":10,"kind":"sum","layer":7,"value":145},{"epoch":10,"kind":"sum","layer":8,"value":490},{"epoch":10,"kind":"sum","layer":9,"value":74},{"epoch":10,"kind":"sum","layer":10,"value":170},{"epoch":10,"kind":"sum","layer":11,"value":93},{"epoch":10,"kind":"sum","layer":12,"value":370},{"epoch":10,"kind":"sum","layer":13,"value":83},{"epoch":10,"kind":"sum","layer":14,"value":110},{"epoch":10,"kind":"sum","layer":15,"value":74},{"epoch":10,"kind":"sum","layer":16,"value":145},{"epoch":10,"kind":"sum","layer":17,"value":145},
{"epoch":10,"kind":"between","layer":0,"value":280},{"epoch":10,"kind":"between","layer":1,"value":370},{"epoch":10,"kind":"between","layer":2,"value":210},{"epoch":10,"kind":"between","layer":3,"value":95},{"epoch":10,"kind":"between","layer":4,"value":1100},{"epoch":10,"kind":"between","layer":5,"value":80},{"epoch":10,"kind":"between","layer":6,"value":200},{"epoch":10,"kind":"between","layer":7,"value":85},{"epoch":10,"kind":"between","layer":8,"value":320},{"epoch":10,"kind":"between","layer":9,"value":45},{"epoch":10,"kind":"between","layer":10,"value":110},{"epoch":10,"kind":"between","layer":11,"value":60},{"epoch":10,"kind":"between","layer":12,"value":240},{"epoch":10,"kind":"between","layer":13,"value":60},{"epoch":10,"kind":"between","layer":14,"value":85},{"epoch":10,"kind":"between","layer":15,"value":60},{"epoch":10,"kind":"between","layer":16,"value":120},{"epoch":10,"kind":"between","layer":17,"value":120},
{"epoch":10,"kind":"within","layer":0,"value":160},{"epoch":10,"kind":"within","layer":1,"value":200},{"epoch":10,"kind":"within","layer":2,"value":110},{"epoch":10,"kind":"within","layer":3,"value":50},{"epoch":10,"kind":"within","layer":4,"value":600},{"epoch":10,"kind":"within","layer":5,"value":40},{"epoch":10,"kind":"within","layer":6,"value":100},{"epoch":10,"kind":"within","layer":7,"value":45},{"epoch":10,"kind":"within","layer":8,"value":160},{"epoch":10,"kind":"within","layer":9,"value":30},{"epoch":10,"kind":"within","layer":10,"value":55},{"epoch":10,"kind":"within","layer":11,"value":30},{"epoch":10,"kind":"within","layer":12,"value":100},{"epoch":10,"kind":"within","layer":13,"value":18},{"epoch":10,"kind":"within","layer":14,"value":20},{"epoch":10,"kind":"within","layer":15,"value":12},{"epoch":10,"kind":"within","layer":16,"value":25},{"epoch":10,"kind":"within","layer":17,"value":25},
{"epoch":100,"kind":"sum","layer":0,"value":2.0},{"epoch":100,"kind":"sum","layer":1,"value":0.44},{"epoch":100,"kind":"sum","layer":2,"value":1.3},{"epoch":100,"kind":"sum","layer":3,"value":0.25},{"epoch":100,"kind":"sum","layer":4,"value":1.2},{"epoch":100,"kind":"sum","layer":5,"value":0.21},{"epoch":100,"kind":"sum","layer":6,"value":0.145},{"epoch":100,"kind":"sum","layer":7,"value":0.057},{"epoch":100,"kind":"sum","layer":8,"value":0.21},{"epoch":100,"kind":"sum","layer":9,"value":0.076},{"epoch":100,"kind":"sum","layer":10,"value":0.094},{"epoch":100,"kind":"sum","layer":11,"value":0.071},{"epoch":100,"kind":"sum","layer":12,"value":0.49},{"epoch":100,"kind":"sum","layer":13,"value":0.12},{"epoch":100,"kind":"sum","layer":14,"value":1.55},{"epoch":100,"kind":"sum","layer":15,"value":0.063},{"epoch":100,"kind":"sum","layer":16,"value":3.4},{"epoch":100,"kind":"sum","layer":17,"value":3.4},
{"epoch":100,"kind":"between","layer":0,"value":1.0},{"epoch":100,"kind":"between","layer":1,"value":0.2},{"epoch":100,"kind":"between","layer":2,"value":0.7},{"epoch":100,"kind":"between","layer":3,"value":0.12},{"epoch":100,"kind":"between","layer":4,"value":0.8},{"epoch":100,"kind":"between","layer":5,"value":0.1},{"epoch":100,"kind":"between","layer":6,"value":0.06},{"epoch":100,"kind":"between","layer":7,"value":0.025},{"epoch":100,"kind":"between","layer":8,"value":0.1},{"epoch":100,"kind":"between","layer":9,"value":0.06},{"epoch":100,"kind":"between","layer":10,"value":0.09},{"epoch":100,"kind":"between","layer":11,"value":0.07},{"epoch":100,"kind":"between","layer":12,"value":0.49},{"epoch":100,"kind":"between","layer":13,"value":0.12},{"epoch":100,"kind":"between","layer":14,"value":1.55},{"epoch":100,"kind":"between","layer":15,"value":0.063},{"epoch":100,"kind":"between","layer":16,"value":3.4},{"epoch":100,"kind":"between","layer":17,"value":3.4},
{"epoch":100,"kind":"within","layer":0,"value":0.6},{"epoch":100,"kind":"within","layer":1,"value":0.15},{"epoch":100,"kind":"within","layer":2,"value":0.4},{"epoch":100,"kind":"within","layer":3,"value":0.08},{"epoch":100,"kind":"within","layer":4,"value":0.76},{"epoch":100,"kind":"within","layer":5,"value":0.145},{"epoch":100,"kind":"within","layer":6,"value":0.063},{"epoch":100,"kind":"within","layer":7,"value":0.036},{"epoch":100,"kind":"within","layer":8,"value":0.11},{"epoch":100,"kind":"within","layer":9,"value":0.0052},{"epoch":100,"kind":"within","layer":10,"value":0.003},{"epoch":100,"kind":"within","layer":11,"value":0.001},{"epoch":100,"kind":"within","layer":12,"value":0.0034},{"epoch":100,"kind":"within","layer":13,"value":0.00023},{"epoch":100,"kind":"within","layer":14,"value":0.0023},{"epoch":100,"kind":"within","layer":15,"value":0.00065},{"epoch":100,"kind":"within","layer":16,"value":0.0017},{"epoch":100,"kind":"within","layer":17,"value":0.0017},
{"epoch":350,"kind":"sum","layer":0,"value":2.0},{"epoch":350,"kind":"sum","layer":1,"value":0.3},{"epoch":350,"kind":"sum","layer":2,"value":1.2},{"epoch":350,"kind":"sum","layer":3,"value":0.15},{"epoch":350,"kind":"sum","layer":4,"value":1.5},{"epoch":350,"kind":"sum","layer":5,"value":0.083},{"epoch":350,"kind":"sum","layer":6,"value":0.036},{"epoch":350,"kind":"sum","layer":7,"value":0.0091},{"epoch":350,"kind":"sum","layer":8,"value":0.036},{"epoch":350,"kind":"sum","layer":9,"value":0.019},{"epoch":350,"kind":"sum","layer":10,"value":0.054},{"epoch":350,"kind":"sum","layer":11,"value":0.054},{"epoch":350,"kind":"sum","layer":12,"value":0.49},{"epoch":350,"kind":"sum","layer":13,"value":0.11},{"epoch":350,"kind":"sum","layer":14,"value":1.55},{"epoch":350,"kind":"sum","layer":15,"value":0.063},{"epoch":350,"kind":"sum","layer":16,"value":3.4},{"epoch":350,"kind":"sum","layer":17,"value":3.4},
{"epoch":350,"kind":"between","layer":0,"value":1.0},{"epoch":350,"kind":"between","layer":1,"value":0.15},{"epoch":350,"kind":"between","layer":2,"value":0.6},{"epoch":350,"kind":"between","layer":3,"value":0.07},{"epoch":350,"kind":"between","layer":4,"value":0.9},{"epoch":350,"kind":"between","layer":5,"value":0.063},{"epoch":350,"kind":"between","layer":6,"value":0.028},{"epoch":350,"kind":"between","layer":7,"value":0.0052},{"epoch":350,"kind":"between","layer":8,"value":0.025},{"epoch":350,"kind":"between","layer":9,"value":0.019},{"epoch":350,"kind":"between","layer":10,"value":0.054},{"epoch":350,"kind":"between","layer":11,"value":0.054},{"epoch":350,"kind":"between","layer":12,"value":0.49},{"epoch":350,"kind":"between","layer":13,"value":0.11},{"epoch":350,"kind":"between","layer":14,"value":1.55},{"epoch":350,"kind":"between","layer":15,"value":0.063},{"epoch":350,"kind":"between","layer":16,"value":3.4},{"epoch":350,"kind":"between","layer":17,"value":3.4},
{"epoch":350,"kind":"within","layer":0,"value":0.6},{"epoch":350,"kind":"within","layer":1,"value":0.1},{"epoch":350,"kind":"within","layer":2,"value":0.35},{"epoch":350,"kind":"within","layer":3,"value":0.05},{"epoch":350,"kind":"within","layer":4,"value":0.37},{"epoch":350,"kind":"within","layer":5,"value":0.028},{"epoch":350,"kind":"within","layer":6,"value":0.013},{"epoch":350,"kind":"within","layer":7,"value":0.0023},{"epoch":350,"kind":"within","layer":8,"value":0.013},{"epoch":350,"kind":"within","layer":9,"value":0.001},{"epoch":350,"kind":"within","layer":10,"value":0.0013},{"epoch":350,"kind":"within","layer":11,"value":0.001},{"epoch":350,"kind":"within","layer":12,"value":0.0017},{"epoch":350,"kind":"within","layer":13,"value":0.00005},{"epoch":350,"kind":"within","layer":14,"value":0.00034},{"epoch":350,"kind":"within","layer":15,"value":0.000085},{"epoch":350,"kind":"within","layer":16,"value":0.0004},{"epoch":350,"kind":"within","layer":17,"value":0.0004}
],
"rel_Resnet18": [
{"epoch":10,"kind":"between","layer":0,"value":0.27},{"epoch":10,"kind":"between","layer":1,"value":0.3},{"epoch":10,"kind":"between","layer":2,"value":0.28},{"epoch":10,"kind":"between","layer":3,"value":0.33},{"epoch":10,"kind":"between","layer":4,"value":0.3},{"epoch":10,"kind":"between","layer":5,"value":0.38},{"epoch":10,"kind":"between","layer":6,"value":0.43},{"epoch":10,"kind":"between","layer":7,"value":0.46},{"epoch":10,"kind":"between","layer":8,"value":0.5},{"epoch":10,"kind":"between","layer":9,"value":0.54},{"epoch":10,"kind":"between","layer":10,"value":0.59},{"epoch":10,"kind":"between","layer":11,"value":0.64},{"epoch":10,"kind":"between","layer":12,"value":0.7},{"epoch":10,"kind":"between","layer":13,"value":0.76},{"epoch":10,"kind":"between","layer":14,"value":0.82},{"epoch":10,"kind":"between","layer":15,"value":0.82},{"epoch":10,"kind":"between","layer":16,"value":0.82},{"epoch":10,"kind":"between","layer":17,"value":0.76},
{"epoch":10,"kind":"within","layer":0,"value":0.66},{"epoch":10,"kind":"within","layer":1,"value":0.57},{"epoch":10,"kind":"within","layer":2,"value":0.66},{"epoch":10,"kind":"within","layer":3,"value":0.6},{"epoch":10,"kind":"within","layer":4,"value":0.66},{"epoch":10,"kind":"within","layer":5,"value":0.57},{"epoch":10,"kind":"within","layer":6,"value":0.5},{"epoch":10,"kind":"within","layer":7,"value":0.43},{"epoch":10,"kind":"within","layer":8,"value":0.43},{"epoch":10,"kind":"within","layer":9,"value":0.38},{"epoch":10,"kind":"within","layer":10,"value":0.33},{"epoch":10,"kind":"within","layer":11,"value":0.28},{"epoch":10,"kind":"within","layer":12,"value":0.25},{"epoch":10,"kind":"within","layer":13,"value":0.22},{"epoch":10,"kind":"within","layer":14,"value":0.2},{"epoch":10,"kind":"within","layer":15,"value":0.18},{"epoch":10,"kind":"within","layer":16,"value":0.2},{"epoch":10,"kind":"within","layer":17,"value":0.2},
{"epoch":100,"kind":"between","layer":0,"value":0.27},{"epoch":100,"kind":"between","layer":1,"value":0.33},{"epoch":100,"kind":"between","layer":2,"value":0.27},{"epoch":100,"kind":"between","layer":3,"value":0.31},{"epoch":100,"kind":"between","layer":4,"value":0.27},{"epoch":100,"kind":"between","layer":5,"value":0.33},{"epoch":100,"kind":"between","layer":6,"value":0.5},{"epoch":100,"kind":"between","layer":7,"value":0.66},{"epoch":100,"kind":"between","layer":8,"value":0.6},{"epoch":100,"kind":"between","layer":9,"value":0.96},{"epoch":100,"kind":"between","layer":10,"value":0.98},{"epoch":100,"kind":"between","layer":11,"value":0.98},{"epoch":100,"kind":"between","layer":12,"value":0.98},{"epoch":100,"kind":"between","layer":13,"value":0.98},{"epoch":100,"kind":"between","layer":14,"value":0.98},{"epoch":100,"kind":"between","layer":15,"value":0.98},{"epoch":100,"kind":"between","layer":16,"value":0.98},{"epoch":100,"kind":"between","layer":17,"value":0.98},
{"epoch":100,"kind":"within","layer":0,"value":0.67},{"epoch":100,"kind":"within","layer":1,"value":0.57},{"epoch":100,"kind":"within","layer":2,"value":0.67},{"epoch":100,"kind":"within","layer":3,"value":0.6},{"epoch":100,"kind":"within","layer":4,"value":0.67},{"epoch":100,"kind":"within","layer":5,"value":0.63},{"epoch":100,"kind":"within","layer":6,"value":0.47},{"epoch":100,"kind":"within","layer":7,"value":0.28},{"epoch":100,"kind":"within","layer":8,"value":0.35},{"epoch":100,"kind":"within","layer":9,"value":0.065},{"epoch":100,"kind":"within","layer":10,"value":0.026},{"epoch":100,"kind":"within","layer":11,"value":0.016},{"epoch":100,"kind":"within","layer":12,"value":0.0087},{"epoch":100,"kind":"within","layer":13,"value":0.0019},{"epoch":100,"kind":"within","layer":14,"value":0.0016},{"epoch":100,"kind":"within","layer":15,"value":0.0087},{"epoch":100,"kind":"within","layer":16,"value":0.0006},{"epoch":100,"kind":"within","layer":17,"value":0.0006},
{"epoch":350,"kind":"between","layer":0,"value":0.27},{"epoch":350,"kind":"between","layer":1,"value":0.34},{"epoch":350,"kind":"between","layer":2,"value":0.27},{"epoch":350,"kind":"between","layer":3,"value":0.33},{"epoch":350,"kind":"between","layer":4,"value":0.26},{"epoch":350,"kind":"between","layer":5,"value":0.33},{"epoch":350,"kind":"between","layer":6,"value":0.5},{"epoch":350,"kind":"between","layer":7,"value":0.72},{"epoch":350,"kind":"between","layer":8,"value":0.58},{"epoch":350,"kind":"between","layer":9,"value":0.98},{"epoch":350,"kind":"between","layer":10,"value":0.99},{"epoch":350,"kind":"between","layer":11,"value":0.99},{"epoch":350,"kind":"between","layer":12,"value":0.99},{"epoch":350,"kind":"between","layer":13,"value":0.99},{"epoch":350,"kind":"between","layer":14,"value":0.99},{"epoch":350,"kind":"between","layer":15,"value":0.99},{"epoch":350,"kind":"between","layer":16,"value":0.99},{"epoch":350,"kind":"between","layer":17,"value":0.99},
{"epoch":350,"kind":"within","layer":0,"value":0.7},{"epoch":350,"kind":"within","layer":1,"value":0.6},{"epoch":350,"kind":"within","layer":2,"value":0.7},{"epoch":350,"kind":"within","layer":3,"value":0.6},{"epoch":350,"kind":"within","layer":4,"value":0.7},{"epoch":350,"kind":"within","layer":5,"value":0.6},{"epoch":350,"kind":"within","layer":6,"value":0.47},{"epoch":350,"kind":"within","layer":7,"value":0.25},{"epoch":350,"kind":"within","layer":8,"value":0.33},{"epoch":350,"kind":"within","layer":9,"value":0.05},{"epoch":350,"kind":"within","layer":10,"value":0.023},{"epoch":350,"kind":"within","layer":11,"value":0.017},{"epoch":350,"kind":"within","layer":12,"value":0.0037},{"epoch":350,"kind":"within","layer":13,"value":0.0005},{"epoch":350,"kind":"within","layer":14,"value":0.00021},{"epoch":350,"kind":"within","layer":15,"value":0.0013},{"epoch":350,"kind":"within","layer":16,"value":0.00013},{"epoch":350,"kind":"within","layer":17,"value":0.00013}
],
"cdnv": [
{"net":"MLP","epoch":10,"layer":0,"value":2.14},{"net":"MLP","epoch":10,"layer":1,"value":1.58},{"net":"MLP","epoch":10,"layer":2,"value":1.04},{"net":"MLP","epoch":10,"layer":3,"value":0.72},{"net":"MLP","epoch":10,"layer":4,"value":0.45},{"net":"MLP","epoch":10,"layer":5,"value":0.26},{"net":"MLP","epoch":10,"layer":6,"value":0.15},{"net":"MLP","epoch":10,"layer":7,"value":0.085},{"net":"MLP","epoch":10,"layer":8,"value":0.056},{"net":"MLP","epoch":10,"layer":9,"value":0.043},{"net":"MLP","epoch":10,"layer":10,"value":0.027},
{"net":"MLP","epoch":100,"layer":0,"value":2.14},{"net":"MLP","epoch":100,"layer":1,"value":1.4},{"net":"MLP","epoch":100,"layer":2,"value":0.5},{"net":"MLP","epoch":100,"layer":3,"value":0.087},{"net":"MLP","epoch":100,"layer":4,"value":0.046},{"net":"MLP","epoch":100,"layer":5,"value":0.031},{"net":"MLP","epoch":100,"layer":6,"value":0.019},{"net":"MLP","epoch":100,"layer":7,"value":0.0128},{"net":"MLP","epoch":100,"layer":8,"value":0.0115},{"net":"MLP","epoch":100,"layer":9,"value":0.0108},{"net":"MLP","epoch":100,"layer":10,"value":0.0105},
{"net":"MLP","epoch":350,"layer":0,"value":2.14},{"net":"MLP","epoch":350,"layer":1,"value":2.02},{"net":"MLP","epoch":350,"layer":2,"value":0.455},{"net":"MLP","epoch":350,"layer":3,"value":0.037},{"net":"MLP","epoch":350,"layer":4,"value":0.0149},{"net":"MLP","epoch":350,"layer":5,"value":0.0053},{"net":"MLP","epoch":350,"layer":6,"value":0.0019},{"net":"MLP","epoch":350,"layer":7,"value":0.00087},{"net":"MLP","epoch":350,"layer":8,"value":0.00051},{"net":"MLP","epoch":350,"layer":9,"value":0.0004},{"net":"MLP","epoch":350,"layer":10,"value":0.00031},
{"net":"Convnet","epoch":10,"layer":0,"value":2.14},{"net":"Convnet","epoch":10,"layer":1,"value":2.7},{"net":"Convnet","epoch":10,"layer":2,"value":2.6},{"net":"Convnet","epoch":10,"layer":3,"value":2.14},{"net":"Convnet","epoch":10,"layer":4,"value":1.87},{"net":"Convnet","epoch":10,"layer":5,"value":1.56},{"net":"Convnet","epoch":10,"layer":6,"value":1.34},{"net":"Convnet","epoch":10,"layer":7,"value":1.16},{"net":"Convnet","epoch":10,"layer":8,"value":0.98},{"net":"Convnet","epoch":10,"layer":9,"value":0.8},{"net":"Convnet","epoch":10,"layer":10,"value":0.63},{"net":"Convnet","epoch":10,"layer":11,"value":0.48},{"net":"Convnet","epoch":10,"layer":12,"value":0.37},{"net":"Convnet","epoch":10,"layer":13,"value":0.28},{"net":"Convnet","epoch":10,"layer":14,"value":0.2},{"net":"Convnet","epoch":10,"layer":15,"value":0.158},{"net":"Convnet","epoch":10,"layer":16,"value":0.128},{"net":"Convnet","epoch":10,"layer":17,"value":0.112},{"net":"Convnet","epoch":10,"layer":18,"value":0.105},{"net":"Convnet","epoch":10,"layer":19,"value":0.107},{"net":"Convnet","epoch":10,"layer":20,"value":0.11},
{"net":"Convnet","epoch":100,"layer":0,"value":2.14},{"net":"Convnet","epoch":100,"layer":1,"value":2.6},{"net":"Convnet","epoch":100,"layer":2,"value":2.7},{"net":"Convnet","epoch":100,"layer":3,"value":2.14},{"net":"Convnet","epoch":100,"layer":4,"value":1.66},{"net":"Convnet","epoch":100,"layer":5,"value":1.1},{"net":"Convnet","epoch":100,"layer":6,"value":0.74},{"net":"Convnet","epoch":100,"layer":7,"value":0.54},{"net":"Convnet","epoch":100,"layer":8,"value":0.41},{"net":"Convnet","epoch":100,"layer":9,"value":0.28},{"net":"Convnet","epoch":100,"layer":10,"value":0.19},{"net":"Convnet","epoch":100,"layer":11,"value":0.126},{"net":"Convnet","epoch":100,"layer":12,"value":0.1},{"net":"Convnet","epoch":100,"layer":13,"value":0.074},{"net":"Convnet","epoch":100,"layer":14,"value":0.055},{"net":"Convnet","epoch":100,"layer":15,"value":0.038},{"net":"Convnet","epoch":100,"layer":16,"value":0.032},{"net":"Convnet","epoch":100,"layer":17,"value":0.0236},{"net":"Convnet","epoch":100,"layer":18,"value":0.019},{"net":"Convnet","epoch":100,"layer":19,"value":0.0174},{"net":"Convnet","epoch":100,"layer":20,"value":0.0165},
{"net":"Convnet","epoch":350,"layer":0,"value":2.14},{"net":"Convnet","epoch":350,"layer":1,"value":2.8},{"net":"Convnet","epoch":350,"layer":2,"value":2.55},{"net":"Convnet","epoch":350,"layer":3,"value":2.14},{"net":"Convnet","epoch":350,"layer":4,"value":1.56},{"net":"Convnet","epoch":350,"layer":5,"value":0.92},{"net":"Convnet","epoch":350,"layer":6,"value":0.62},{"net":"Convnet","epoch":350,"layer":7,"value":0.52},{"net":"Convnet","epoch":350,"layer":8,"value":0.41},{"net":"Convnet","epoch":350,"layer":9,"value":0.27},{"net":"Convnet","epoch":350,"layer":10,"value":0.19},{"net":"Convnet","epoch":350,"layer":11,"value":0.14},{"net":"Convnet","epoch":350,"layer":12,"value":0.087},{"net":"Convnet","epoch":350,"layer":13,"value":0.058},{"net":"Convnet","epoch":350,"layer":14,"value":0.039},{"net":"Convnet","epoch":350,"layer":15,"value":0.015},{"net":"Convnet","epoch":350,"layer":16,"value":0.0113},{"net":"Convnet","epoch":350,"layer":17,"value":0.0031},{"net":"Convnet","epoch":350,"layer":18,"value":0.001},{"net":"Convnet","epoch":350,"layer":19,"value":0.00066},{"net":"Convnet","epoch":350,"layer":20,"value":0.00052},
{"net":"Resnet18","epoch":10,"layer":0,"value":1.41},{"net":"Resnet18","epoch":10,"layer":1,"value":1.23},{"net":"Resnet18","epoch":10,"layer":2,"value":1.15},{"net":"Resnet18","epoch":10,"layer":3,"value":1.0},{"net":"Resnet18","epoch":10,"layer":4,"value":1.15},{"net":"Resnet18","epoch":10,"layer":5,"value":0.93},{"net":"Resnet18","epoch":10,"layer":6,"value":0.81},{"net":"Resnet18","epoch":10,"layer":7,"value":0.76},{"net":"Resnet18","epoch":10,"layer":8,"value":0.69},{"net":"Resnet18","epoch":10,"layer":9,"value":0.52},{"net":"Resnet18","epoch":10,"layer":10,"value":0.37},{"net":"Resnet18","epoch":10,"layer":11,"value":0.28},{"net":"Resnet18","epoch":10,"layer":12,"value":0.24},{"net":"Resnet18","epoch":10,"layer":13,"value":0.16},{"net":"Resnet18","epoch":10,"layer":14,"value":0.118},{"net":"Resnet18","epoch":10,"layer":15,"value":0.1},{"net":"Resnet18","epoch":10,"layer":16,"value":0.122},{"net":"Resnet18","epoch":10,"layer":17,"value":0.122},
{"net":"Resnet18","epoch":100,"layer":0,"value":1.41},{"net":"Resnet18","epoch":100,"layer":1,"value":0.98},{"net":"Resnet18","epoch":100,"layer":2,"value":1.32},{"net":"Resnet18","epoch":100,"layer":3,"value":0.98},{"net":"Resnet18","epoch":100,"layer":4,"value":1.18},{"net":"Resnet18","epoch":100,"layer":5,"value":0.81},{"net":"Resnet18","epoch":100,"layer":6,"value":0.49},{"net":"Resnet18","epoch":100,"layer":7,"value":0.22},{"net":"Resnet18","epoch":100,"layer":8,"value":0.27},{"net":"Resnet18","epoch":100,"layer":9,"value":0.037},{"net":"Resnet18","epoch":100,"layer":10,"value":0.0132},{"net":"Resnet18","epoch":100,"layer":11,"value":0.0081},{"net":"Resnet18","epoch":100,"layer":12,"value":0.0041},{"net":"Resnet18","epoch":100,"layer":13,"value":0.00087},{"net":"Resnet18","epoch":100,"layer":14,"value":0.00074},{"net":"Resnet18","epoch":100,"layer":15,"value":0.0042},{"net":"Resnet18","epoch":100,"layer":16,"value":0.00028},{"net":"Resnet18","epoch":100,"layer":17,"value":0.00028},
{"net":"Resnet18","epoch":350,"layer":0,"value":1.41},{"net":"Resnet18","epoch":350,"layer":1,"value":0.98},{"net":"Resnet18","epoch":350,"layer":2,"value":1.41},{"net":"Resnet18","epoch":350,"layer":3,"value":0.96},{"net":"Resnet18","epoch":350,"layer":4,"value":1.38},{"net":"Resnet18","epoch":350,"layer":5,"value":0.96},{"net":"Resnet18","epoch":350,"layer":6,"value":0.47},{"net":"Resnet18","epoch":350,"layer":7,"value":0.18},{"net":"Resnet18","epoch":350,"layer":8,"value":0.27},{"net":"Resnet18","epoch":350,"layer":9,"value":0.025},{"net":"Resnet18","epoch":350,"layer":10,"value":0.0112},{"net":"Resnet18","epoch":350,"layer":11,"value":0.0085},{"net":"Resnet18","epoch":350,"layer":12,"value":0.0015},{"net":"Resnet18","epoch":350,"layer":13,"value":0.00021},{"net":"Resnet18","epoch":350,"layer":14,"value":0.000093},{"net":"Resnet18","epoch":350,"layer":15,"value":0.00061},{"net":"Resnet18","epoch":350,"layer":16,"value":0.000062},{"net":"Resnet18","epoch":350,"layer":17,"value":0.000062}
],
"etf_MLP": [
{"metric":"mean","epoch":10,"layer":0,"value":0.00546},{"metric":"mean","epoch":10,"layer":1,"value":0.00512},{"metric":"mean","epoch":10,"layer":2,"value":0.00512},{"metric":"mean","epoch":10,"layer":3,"value":0.00512},{"metric":"mean","epoch":10,"layer":4,"value":0.00434},{"metric":"mean","epoch":10,"layer":5,"value":0.00424},{"metric":"mean","epoch":10,"layer":6,"value":0.0041},{"metric":"mean","epoch":10,"layer":7,"value":0.00462},{"metric":"mean","epoch":10,"layer":8,"value":0.00455},{"metric":"mean","epoch":10,"layer":9,"value":0.00275},{"metric":"mean","epoch":10,"layer":10,"value":0.00044},
{"metric":"mean","epoch":100,"layer":0,"value":0.00546},{"metric":"mean","epoch":100,"layer":1,"value":0.00451},{"metric":"mean","epoch":100,"layer":2,"value":0.00207},{"metric":"mean","epoch":100,"layer":3,"value":0.00241},{"metric":"mean","epoch":100,"layer":4,"value":0.0039},{"metric":"mean","epoch":100,"layer":5,"value":0.00407},{"metric":"mean","epoch":100,"layer":6,"value":0.00604},{"metric":"mean","epoch":100,"layer":7,"value":0.00122},{"metric":"mean","epoch":100,"layer":8,"value":0.00051},{"metric":"mean","epoch":100,"layer":9,"value":0.00017},{"metric":"mean","epoch":100,"layer":10,"value":0.0001},
{"metric":"mean","epoch":350,"layer":0,"value":0.00546},{"metric":"mean","epoch":350,"layer":1,"value":0.00265},{"metric":"mean","epoch":350,"layer":2,"value":0.00119},{"metric":"mean","epoch":350,"layer":3,"value":0.00271},{"metric":"mean","epoch":350,"layer":4,"value":0.00519},{"metric":"mean","epoch":350,"layer":5,"value":0.0041},{"metric":"mean","epoch":350,"layer":6,"value":0.008},{"metric":"mean","epoch":350,"layer":7,"value":0.00343},{"metric":"mean","epoch":350,"layer":8,"value":0.00027},{"metric":"mean","epoch":350,"layer":9,"value":0.0001},{"metric":"mean","epoch":350,"layer":10,"value":0.0001},
{"metric":"std","epoch":10,"layer":0,"value":0.259},{"metric":"std","epoch":10,"layer":1,"value":0.216},{"metric":"std","epoch":10,"layer":2,"value":0.175},{"metric":"std","epoch":10,"layer":3,"value":0.148},{"metric":"std","epoch":10,"layer":4,"value":0.126},{"metric":"std","epoch":10,"layer":5,"value":0.105},{"metric":"std","epoch":10,"layer":6,"value":0.08},{"metric":"std","epoch":10,"layer":7,"value":0.075},{"metric":"std","epoch":10,"layer":8,"value":0.067},{"metric":"std","epoch":10,"layer":9,"value":0.062},{"metric":"std","epoch":10,"layer":10,"value":0.022},
{"metric":"std","epoch":100,"layer":0,"value":0.259},{"metric":"std","epoch":100,"layer":1,"value":0.177},{"metric":"std","epoch":100,"layer":2,"value":0.148},{"metric":"std","epoch":100,"layer":3,"value":0.137},{"metric":"std","epoch":100,"layer":4,"value":0.11},{"metric":"std","epoch":100,"layer":5,"value":0.08},{"metric":"std","epoch":100,"layer":6,"value":0.094},{"metric":"std","epoch":100,"layer":7,"value":0.072},{"metric":"std","epoch":100,"layer":8,"value":0.051},{"metric":"std","epoch":100,"layer":9,"value":0.022},{"metric":"std","epoch":100,"layer":10,"value":0.0076},
{"metric":"std","epoch":350,"layer":0,"value":0.259},{"metric":"std","epoch":350,"layer":1,"value":0.172},{"metric":"std","epoch":350,"layer":2,"value":0.178},{"metric":"std","epoch":350,"layer":3,"value":0.197},{"metric":"std","epoch":350,"layer":4,"value":0.164},{"metric":"std","epoch":350,"layer":5,"value":0.143},{"metric":"std","epoch":350,"layer":6,"value":0.126},{"metric":"std","epoch":350,"layer":7,"value":0.094},{"metric":"std","epoch":350,"layer":8,"value":0.049},{"metric":"std","epoch":350,"layer":9,"value":0.022},{"metric":"std","epoch":350,"layer":10,"value":0.0076},
{"metric":"rel","epoch":10,"layer":0,"value":0.229},{"metric":"rel","epoch":10,"layer":1,"value":0.207},{"metric":"rel","epoch":10,"layer":2,"value":0.198},{"metric":"rel","epoch":10,"layer":3,"value":0.191},{"metric":"rel","epoch":10,"layer":4,"value":0.186},{"metric":"rel","epoch":10,"layer":5,"value":0.184},{"metric":"rel","epoch":10,"layer":6,"value":0.186},{"metric":"rel","epoch":10,"layer":7,"value":0.192},{"metric":"rel","epoch":10,"layer":8,"value":0.186},{"metric":"rel","epoch":10,"layer":9,"value":0.141},{"metric":"rel","epoch":10,"layer":10,"value":0.062},
{"metric":"rel","epoch":100,"layer":0,"value":0.229},{"metric":"rel","epoch":100,"layer":1,"value":0.17},{"metric":"rel","epoch":100,"layer":2,"value":0.117},{"metric":"rel","epoch":100,"layer":3,"value":0.118},{"metric":"rel","epoch":100,"layer":4,"value":0.159},{"metric":"rel","epoch":100,"layer":5,"value":0.152},{"metric":"rel","epoch":100,"layer":6,"value":0.165},{"metric":"rel","epoch":100,"layer":7,"value":0.075},{"metric":"rel","epoch":100,"layer":8,"value":0.056},{"metric":"rel","epoch":100,"layer":9,"value":0.041},{"metric":"rel","epoch":100,"layer":10,"value":0.03},
{"metric":"rel","epoch":350,"layer":0,"value":0.229},{"metric":"rel","epoch":350,"layer":1,"value":0.118},{"metric":"rel","epoch":350,"layer":2,"value":0.122},{"metric":"rel","epoch":350,"layer":3,"value":0.126},{"metric":"rel","epoch":350,"layer":4,"value":0.17},{"metric":"rel","epoch":350,"layer":5,"value":0.168},{"metric":"rel","epoch":350,"layer":6,"value":0.201},{"metric":"rel","epoch":350,"layer":7,"value":0.119},{"metric":"rel","epoch":350,"layer":8,"value":0.033},{"metric":"rel","epoch":350,"layer":9,"value":0.034},{"metric":"rel","epoch":350,"layer":10,"value":0.015}
],
"etf_Convnet": [
{"metric":"mean","epoch":10,"layer":0,"value":0.0056},{"metric":"mean","epoch":10,"layer":1,"value":0.0053},{"metric":"mean","epoch":10,"layer":2,"value":0.0051},{"metric":"mean","epoch":10,"layer":3,"value":0.005},{"metric":"mean","epoch":10,"layer":4,"value":0.0048},{"metric":"mean","epoch":10,"layer":5,"value":0.0045},{"metric":"mean","epoch":10,"layer":6,"value":0.0042},{"metric":"mean","epoch":10,"layer":7,"value":0.004},{"metric":"mean","epoch":10,"layer":8,"value":0.0038},{"metric":"mean","epoch":10,"layer":9,"value":0.0035},{"metric":"mean","epoch":10,"layer":10,"value":0.0033},{"metric":"mean","epoch":10,"layer":11,"value":0.0031},{"metric":"mean","epoch":10,"layer":12,"value":0.003},{"metric":"mean","epoch":10,"layer":13,"value":0.0032},{"metric":"mean","epoch":10,"layer":14,"value":0.0035},{"metric":"mean","epoch":10,"layer":15,"value":0.004},{"metric":"mean","epoch":10,"layer":16,"value":0.0042},{"metric":"mean","epoch":10,"layer":17,"value":0.0042},{"metric":"mean","epoch":10,"layer":18,"value":0.005},{"metric":"mean","epoch":10,"layer":19,"value":0.0054},{"metric":"mean","epoch":10,"layer":20,"value":0.0002},
{"metric":"mean","epoch":100,"layer":0,"value":0.0056},{"metric":"mean","epoch":100,"layer":1,"value":0.005},{"metric":"mean","epoch":100,"layer":2,"value":0.0048},{"metric":"mean","epoch":100,"layer":3,"value":0.0042},{"metric":"mean","epoch":100,"layer":4,"value":0.003},{"metric":"mean","epoch":100,"layer":5,"value":0.0012},{"metric":"mean","epoch":100,"layer":6,"value":0.001},{"metric":"mean","epoch":100,"layer":7,"value":0.0009},{"metric":"mean","epoch":100,"layer":8,"value":0.0008},{"metric":"mean","epoch":100,"layer":9,"value":0.0015},{"metric":"mean","epoch":100,"layer":10,"value":0.0017},{"metric":"mean","epoch":100,"layer":11,"value":0.0035},{"metric":"mean","epoch":100,"layer":12,"value":0.0109},{"metric":"mean","epoch":100,"layer":13,"value":0.0206},{"metric":"mean","epoch":100,"layer":14,"value":0.0082},{"metric":"mean","epoch":100,"layer":15,"value":0.0023},{"metric":"mean","epoch":100,"layer":16,"value":0.0015},{"metric":"mean","epoch":100,"layer":17,"value":0.002},{"metric":"mean","epoch":100,"layer":18,"value":0.0019},{"metric":"mean","epoch":100,"layer":19,"value":0.0007},{"metric":"mean","epoch":100,"layer":20,"value":0.0002},
{"metric":"mean","epoch":350,"layer":0,"value":0.0054},{"metric":"mean","epoch":350,"layer":1,"value":0.0048},{"metric":"mean","epoch":350,"layer":2,"value":0.0047},{"metric":"mean","epoch":350,"layer":3,"value":0.0043},{"metric":"mean","epoch":350,"layer":4,"value":0.0033},{"metric":"mean","epoch":350,"layer":5,"value":0.0017},{"metric":"mean","epoch":350,"layer":6,"value":0.0012},{"metric":"mean","epoch":350,"layer":7,"value":0.001},{"metric":"mean","epoch":350,"layer":8,"value":0.001},{"metric":"mean","epoch":350,"layer":9,"value":0.0022},{"metric":"mean","epoch":350,"layer":10,"value":0.002},{"metric":"mean","epoch":350,"layer":11,"value":0.0017},{"metric":"mean","epoch":350,"layer":12,"value":0.0035},{"metric":"mean","epoch":350,"layer":13,"value":0.0054},{"metric":"mean","epoch":350,"layer":14,"value":0.0236},{"metric":"mean","epoch":350,"layer":15,"value":0.0178},{"metric":"mean","epoch":350,"layer":16,"value":0.0043},{"metric":"mean","epoch":350,"layer":17,"value":0.0054},{"metric":"mean","epoch":350,"layer":18,"value":0.0017},{"metric":"mean","epoch":350,"layer":19,"value":0.0007},{"metric":"mean","epoch":350,"layer":20,"value":0.0002},
{"metric":"std","epoch":10,"layer":0,"value":0.26},{"metric":"std","epoch":10,"layer":1,"value":0.259},{"metric":"std","epoch":10,"layer":2,"value":0.257},{"metric":"std","epoch":10,"layer":3,"value":0.252},{"metric":"std","epoch":10,"layer":4,"value":0.243},{"metric":"std","epoch":10,"layer":5,"value":0.236},{"metric":"std","epoch":10,"layer":6,"value":0.23},{"metric":"std","epoch":10,"layer":7,"value":0.225},{"metric":"std","epoch":10,"layer":8,"value":0.22},{"metric":"std","epoch":10,"layer":9,"value":0.22},{"metric":"std","epoch":10,"layer":10,"value":0.22},{"metric":"std","epoch":10,"layer":11,"value":0.205},{"metric":"std","epoch":10,"layer":12,"value":0.209},{"metric":"std","epoch":10,"layer":13,"value":0.216},{"metric":"std","epoch":10,"layer":14,"value":0.216},{"metric":"std","epoch":10,"layer":15,"value":0.202},{"metric":"std","epoch":10,"layer":16,"value":0.186},{"metric":"std","epoch":10,"layer":17,"value":0.16},{"metric":"std","epoch":10,"layer":18,"value":0.157},{"metric":"std","epoch":10,"layer":19,"value":0.16},{"metric":"std","epoch":10,"layer":20,"value":0.097},
{"metric":"std","epoch":100,"layer":0,"value":0.26},{"metric":"std","epoch":100,"layer":1,"value":0.26},{"metric":"std","epoch":100,"layer":2,"value":0.257},{"metric":"std","epoch":100,"layer":3,"value":0.24},{"metric":"std","epoch":100,"layer":4,"value":0.222},{"metric":"std","epoch":100,"layer":5,"value":0.218},{"metric":"std","epoch":100,"layer":6,"value":0.22},{"metric":"std","epoch":100,"layer":7,"value":0.209},{"metric":"std","epoch":100,"layer":8,"value":0.195},{"metric":"std","epoch":100,"layer":9,"value":0.18},{"metric":"std","epoch":100,"layer":10,"value":0.149},{"metric":"std","epoch":100,"layer":11,"value":0.154},{"metric":"std","epoch":100,"layer":12,"value":0.195},{"metric":"std","epoch":100,"layer":13,"value":0.22},{"metric":"std","epoch":100,"layer":14,"value":0.154},{"metric":"std","epoch":100,"layer":15,"value":0.104},{"metric":"std","epoch":100,"layer":16,"value":0.1},{"metric":"std","epoch":100,"layer":17,"value":0.08},{"metric":"std","epoch":100,"layer":18,"value":0.062},{"metric":"std","epoch":100,"layer":19,"value":0.035},{"metric":"std","epoch":100,"layer":20,"value":0.032},
{"metric":"std","epoch":350,"layer":0,"value":0.26},{"metric":"std","epoch":350,"layer":1,"value":0.26},{"metric":"std","epoch":350,"layer":2,"value":0.251},{"metric":"std","epoch":350,"layer":3,"value":0.24},{"metric":"std","epoch":350,"layer":4,"value":0.235},{"metric":"std","epoch":350,"layer":5,"value":0.238},{"metric":"std","epoch":350,"layer":6,"value":0.252},{"metric":"std","epoch":350,"layer":7,"value":0.252},{"metric":"std","epoch":350,"layer":8,"value":0.238},{"metric":"std","epoch":350,"layer":9,"value":0.252},{"metric":"std","epoch":350,"layer":10,"value":0.26},{"metric":"std","epoch":350,"layer":11,"value":0.227},{"metric":"std","epoch":350,"layer":12,"value":0.211},{"metric":"std","epoch":350,"layer":13,"value":0.276},{"metric":"std","epoch":350,"layer":14,"value":0.202},{"metric":"std","epoch":350,"layer":15,"value":0.11},{"metric":"std","epoch":350,"layer":16,"value":0.091},{"metric":"std","epoch":350,"layer":17,"value":0.086},{"metric":"std","epoch":350,"layer":18,"value":0.029},{"metric":"std","epoch":350,"layer":19,"value":0.021},{"metric":"std","epoch":350,"layer":20,"value":0.023},
{"metric":"rel","epoch":10,"layer":0,"value":0.231},{"metric":"rel","epoch":10,"layer":1,"value":0.223},{"metric":"rel","epoch":10,"layer":2,"value":0.2},{"metric":"rel","epoch":10,"layer":3,"value":0.187},{"metric":"rel","epoch":10,"layer":4,"value":0.173},{"metric":"rel","epoch":10,"layer":5,"value":0.164},{"metric":"rel","epoch":10,"layer":6,"value":0.156},{"metric":"rel","epoch":10,"layer":7,"value":0.151},{"metric":"rel","epoch":10,"layer":8,"value":0.143},{"metric":"rel","epoch":10,"layer":9,"value":0.137},{"metric":"rel","epoch":10,"layer":10,"value":0.147},{"metric":"rel","epoch":10,"layer":11,"value":0.156},{"metric":"rel","epoch":10,"layer":12,"value":0.167},{"metric":"rel","epoch":10,"layer":13,"value":0.169},{"metric":"rel","epoch":10,"layer":14,"value":0.176},{"metric":"rel","epoch":10,"layer":15,"value":0.183},{"metric":"rel","epoch":10,"layer":16,"value":0.18},{"metric":"rel","epoch":10,"layer":17,"value":0.169},{"metric":"rel","epoch":10,"layer":18,"value":0.177},{"metric":"rel","epoch":10,"layer":19,"value":0.187},{"metric":"rel","epoch":10,"layer":20,"value":0.067},
{"metric":"rel","epoch":100,"layer":0,"value":0.231},{"metric":"rel","epoch":100,"layer":1,"value":0.213},{"metric":"rel","epoch":100,"layer":2,"value":0.187},{"metric":"rel","epoch":100,"layer":3,"value":0.153},{"metric":"rel","epoch":100,"layer":4,"value":0.123},{"metric":"rel","epoch":100,"layer":5,"value":0.08},{"metric":"rel","epoch":100,"layer":6,"value":0.067},{"metric":"rel","epoch":100,"layer":7,"value":0.067},{"metric":"rel","epoch":100,"layer":8,"value":0.083},{"metric":"rel","epoch":100,"layer":9,"value":0.096},{"metric":"rel","epoch":100,"layer":10,"value":0.116},{"metric":"rel","epoch":100,"layer":11,"value":0.173},{"metric":"rel","epoch":100,"layer":12,"value":0.253},{"metric":"rel","epoch":100,"layer":13,"value":0.333},{"metric":"rel","epoch":100,"layer":14,"value":0.249},{"metric":"rel","epoch":100,"layer":15,"value":0.136},{"metric":"rel","epoch":100,"layer":16,"value":0.12},{"metric":"rel","epoch":100,"layer":17,"value":0.1},{"metric":"rel","epoch":100,"layer":18,"value":0.097},{"metric":"rel","epoch":100,"layer":19,"value":0.047},{"metric":"rel","epoch":100,"layer":20,"value":0.029},
{"metric":"rel","epoch":350,"layer":0,"value":0.231},{"metric":"rel","epoch":350,"layer":1,"value":0.216},{"metric":"rel","epoch":350,"layer":2,"value":0.193},{"metric":"rel","epoch":350,"layer":3,"value":0.169},{"metric":"rel","epoch":350,"layer":4,"value":0.14},{"metric":"rel","epoch":350,"layer":5,"value":0.1},{"metric":"rel","epoch":350,"layer":6,"value":0.093},{"metric":"rel","epoch":350,"layer":7,"value":0.093},{"metric":"rel","epoch":350,"layer":8,"value":0.097},{"metric":"rel","epoch":350,"layer":9,"value":0.096},{"metric":"rel","epoch":350,"layer":10,"value":0.08},{"metric":"rel","epoch":350,"layer":11,"value":0.073},{"metric":"rel","epoch":350,"layer":12,"value":0.129},{"metric":"rel","epoch":350,"layer":13,"value":0.137},{"metric":"rel","epoch":350,"layer":14,"value":0.337},{"metric":"rel","epoch":350,"layer":15,"value":0.291},{"metric":"rel","epoch":350,"layer":16,"value":0.14},{"metric":"rel","epoch":350,"layer":17,"value":0.151},{"metric":"rel","epoch":350,"layer":18,"value":0.071},{"metric":"rel","epoch":350,"layer":19,"value":0.031},{"metric":"rel","epoch":350,"layer":20,"value":0.024}
],
"etf_Resnet18": [
{"metric":"mean","epoch":10,"layer":0,"value":0.0085},{"metric":"mean","epoch":10,"layer":1,"value":0.0085},{"metric":"mean","epoch":10,"layer":2,"value":0.0078},{"metric":"mean","epoch":10,"layer":3,"value":0.007},{"metric":"mean","epoch":10,"layer":4,"value":0.0079},{"metric":"mean","epoch":10,"layer":5,"value":0.0067},{"metric":"mean","epoch":10,"layer":6,"value":0.0061},{"metric":"mean","epoch":10,"layer":7,"value":0.006},{"metric":"mean","epoch":10,"layer":8,"value":0.0063},{"metric":"mean","epoch":10,"layer":9,"value":0.0063},{"metric":"mean","epoch":10,"layer":10,"value":0.0062},{"metric":"mean","epoch":10,"layer":11,"value":0.0067},{"metric":"mean","epoch":10,"layer":12,"value":0.0081},{"metric":"mean","epoch":10,"layer":13,"value":0.009},{"metric":"mean","epoch":10,"layer":14,"value":0.0045},{"metric":"mean","epoch":10,"layer":15,"value":0.0027},{"metric":"mean","epoch":10,"layer":16,"value":0.00057},{"metric":"mean","epoch":10,"layer":17,"value":0.00057},
{"metric":"mean","epoch":100,"layer":0,"value":0.007},{"metric":"mean","epoch":100,"layer":1,"value":0.0046},{"metric":"mean","epoch":100,"layer":2,"value":0.0031},{"metric":"mean","epoch":100,"layer":3,"value":0.0017},{"metric":"mean","epoch":100,"layer":4,"value":0.0016},{"metric":"mean","epoch":100,"layer":5,"value":0.001},{"metric":"mean","epoch":100,"layer":6,"value":0.00065},{"metric":"mean","epoch":100,"layer":7,"value":0.00065},{"metric":"mean","epoch":100,"layer":8,"value":0.00043},{"metric":"mean","epoch":100,"layer":9,"value":0.00022},{"metric":"mean","epoch":100,"layer":10,"value":0.00022},{"metric":"mean","epoch":100,"layer":11,"value":0.00022},{"metric":"mean","epoch":100,"layer":12,"value":0.00013},{"metric":"mean","epoch":100,"layer":13,"value":0.00013},{"metric":"mean","epoch":100,"layer":14,"value":0.00013},{"metric":"mean","epoch":100,"layer":15,"value":0.0003},{"metric":"mean","epoch":100,"layer":16,"value":0.00013},{"metric":"mean","epoch":100,"layer":17,"value":0.00013},
{"metric":"mean","epoch":350,"layer":0,"value":0.007},{"metric":"mean","epoch":350,"layer":1,"value":0.0103},{"metric":"mean","epoch":350,"layer":2,"value":0.005},{"metric":"mean","epoch":350,"layer":3,"value":0.0026},{"metric":"mean","epoch":350,"layer":4,"value":0.0041},{"metric":"mean","epoch":350,"layer":5,"value":0.0019},{"metric":"mean","epoch":350,"layer":6,"value":0.0019},{"metric":"mean","epoch":350,"layer":7,"value":0.0027},{"metric":"mean","epoch":350,"layer":8,"value":0.0015},{"metric":"mean","epoch":350,"layer":9,"value":0.00065},{"metric":"mean","epoch":350,"layer":10,"value":0.00035},{"metric":"mean","epoch":350,"layer":11,"value":0.00026},{"metric":"mean","epoch":350,"layer":12,"value":0.00017},{"metric":"mean","epoch":350,"layer":13,"value":0.00017},{"metric":"mean","epoch":350,"layer":14,"value":0.00017},{"metric":"mean","epoch":350,"layer":15,"value":0.00035},{"metric":"mean","epoch":350,"layer":16,"value":0.00017},{"metric":"mean","epoch":350,"layer":17,"value":0.00017},
{"metric":"std","epoch":10,"layer":0,"value":0.27},{"metric":"std","epoch":10,"layer":1,"value":0.283},{"metric":"std","epoch":10,"layer":2,"value":0.285},{"metric":"std","epoch":10,"layer":3,"value":0.273},{"metric":"std","epoch":10,"layer":4,"value":0.283},{"metric":"std","epoch":10,"layer":5,"value":0.257},{"metric":"std","epoch":10,"layer":6,"value":0.263},{"metric":"std","epoch":10,"layer":7,"value":0.263},{"metric":"std","epoch":10,"layer":8,"value":0.269},{"metric":"std","epoch":10,"layer":9,"value":0.269},{"metric":"std","epoch":10,"layer":10,"value":0.264},{"metric":"std","epoch":10,"layer":11,"value":0.258},{"metric":"std","epoch":10,"layer":12,"value":0.267},{"metric":"std","epoch":10,"layer":13,"value":0.199},{"metric":"std","epoch":10,"layer":14,"value":0.111},{"metric":"std","epoch":10,"layer":15,"value":0.095},{"metric":"std","epoch":10,"layer":16,"value":0.058},{"metric":"std","epoch":10,"layer":17,"value":0.058},
{"metric":"std","epoch":100,"layer":0,"value":0.264},{"metric":"std","epoch":100,"layer":1,"value":0.242},{"metric":"std","epoch":100,"layer":2,"value":0.232},{"metric":"std","epoch":100,"layer":3,"value":0.209},{"metric":"std","epoch":100,"layer":4,"value":0.215},{"metric":"std","epoch":100,"layer":5,"value":0.183},{"metric":"std","epoch":100,"layer":6,"value":0.16},{"metric":"std","epoch":100,"layer":7,"value":0.15},{"metric":"std","epoch":100,"layer":8,"value":0.141},{"metric":"std","epoch":100,"layer":9,"value":0.122},{"metric":"std","epoch":100,"layer":10,"value":0.1},{"metric":"std","epoch":100,"layer":11,"value":0.06},{"metric":"std","epoch":100,"layer":12,"value":0.061},{"metric":"std","epoch":100,"layer":13,"value":0.027},{"metric":"std","epoch":100,"layer":14,"value":0.023},{"metric":"std","epoch":100,"layer":15,"value":0.021},{"metric":"std","epoch":100,"layer":16,"value":0.018},{"metric":"std","epoch":100,"layer":17,"value":0.018},
{"metric":"std","epoch":350,"layer":0,"value":0.264},{"metric":"std","epoch":350,"layer":1,"value":0.295},{"metric":"std","epoch":350,"layer":2,"value":0.255},{"metric":"std","epoch":350,"layer":3,"value":0.234},{"metric":"std","epoch":350,"layer":4,"value":0.246},{"metric":"std","epoch":350,"layer":5,"value":0.203},{"metric":"std","epoch":350,"layer":6,"value":0.165},{"metric":"std","epoch":350,"layer":7,"value":0.162},{"metric":"std","epoch":350,"layer":8,"value":0.148},{"metric":"std","epoch":350,"layer":9,"value":0.116},{"metric":"std","epoch":350,"layer":10,"value":0.1},{"metric":"std","epoch":350,"layer":11,"value":0.092},{"metric":"std","epoch":350,"layer":12,"value":0.052},{"metric":"std","epoch":350,"layer":13,"value":0.018},{"metric":"std","epoch":350,"layer":14,"value":0.0086},{"metric":"std","epoch":350,"layer":15,"value":0.025},{"metric":"std","epoch":350,"layer":16,"value":0.011},{"metric":"std","epoch":350,"layer":17,"value":0.011},
{"metric":"rel","epoch":10,"layer":0,"value":0.242},{"metric":"rel","epoch":10,"layer":1,"value":0.226},{"metric":"rel","epoch":10,"layer":2,"value":0.212},{"metric":"rel","epoch":10,"layer":3,"value":0.2},{"metric":"rel","epoch":10,"layer":4,"value":0.207},{"metric":"rel","epoch":10,"layer":5,"value":0.195},{"metric":"rel","epoch":10,"layer":6,"value":0.18},{"metric":"rel","epoch":10,"layer":7,"value":0.174},{"metric":"rel","epoch":10,"layer":8,"value":0.175},{"metric":"rel","epoch":10,"layer":9,"value":0.183},{"metric":"rel","epoch":10,"layer":10,"value":0.187},{"metric":"rel","epoch":10,"layer":11,"value":0.205},{"metric":"rel","epoch":10,"layer":12,"value":0.223},{"metric":"rel","epoch":10,"layer":13,"value":0.225},{"metric":"rel","epoch":10,"layer":14,"value":0.153},{"metric":"rel","epoch":10,"layer":15,"value":0.117},{"metric":"rel","epoch":10,"layer":16,"value":0.04},{"metric":"rel","epoch":10,"layer":17,"value":0.04},
{"metric":"rel","epoch":100,"layer":0,"value":0.193},{"metric":"rel","epoch":100,"layer":1,"value":0.156},{"metric":"rel","epoch":100,"layer":2,"value":0.122},{"metric":"rel","epoch":100,"layer":3,"value":0.102},{"metric":"rel","epoch":100,"layer":4,"value":0.089},{"metric":"rel","epoch":100,"layer":5,"value":0.089},{"metric":"rel","epoch":100,"layer":6,"value":0.079},{"metric":"rel","epoch":100,"layer":7,"value":0.087},{"metric":"rel","epoch":100,"layer":8,"value":0.063},{"metric":"rel","epoch":100,"layer":9,"value":0.058},{"metric":"rel","epoch":100,"layer":10,"value":0.041},{"metric":"rel","epoch":100,"layer":11,"value":0.033},{"metric":"rel","epoch":100,"layer":12,"value":0.022},{"metric":"rel","epoch":100,"layer":13,"value":0.021},{"metric":"rel","epoch":100,"layer":14,"value":0.021},{"metric":"rel","epoch":100,"layer":15,"value":0.03},{"metric":"rel","epoch":100,"layer":16,"value":0.017},{"metric":"rel","epoch":100,"layer":17,"value":0.017},
{"metric":"rel","epoch":350,"layer":0,"value":0.185},{"metric":"rel","epoch":350,"layer":1,"value":0.229},{"metric":"rel","epoch":350,"layer":2,"value":0.158},{"metric":"rel","epoch":350,"layer":3,"value":0.128},{"metric":"rel","epoch":350,"layer":4,"value":0.138},{"metric":"rel","epoch":350,"layer":5,"value":0.107},{"metric":"rel","epoch":350,"layer":6,"value":0.109},{"metric":"rel","epoch":350,"layer":7,"value":0.141},{"metric":"rel","epoch":350,"layer":8,"value":0.107},{"metric":"rel","epoch":350,"layer":9,"value":0.092},{"metric":"rel","epoch":350,"layer":10,"value":0.066},{"metric":"rel","epoch":350,"layer":11,"value":0.038},{"metric":"rel","epoch":350,"layer":12,"value":0.021},{"metric":"rel","epoch":350,"layer":13,"value":0.021},{"metric":"rel","epoch":350,"layer":14,"value":0.024},{"metric":"rel","epoch":350,"layer":15,"value":0.038},{"metric":"rel","epoch":350,"layer":16,"value":0.017},{"metric":"rel","epoch":350,"layer":17,"value":0.017}
]
},
"vconcat": [
{"spacing": 11, "resolve": {"scale": {"color": "independent", "strokeDash": "independent"}, "legend": {"color": "independent", "strokeDash": "independent"}},
 "vconcat": [
 {"spacing": 7, "resolve": {"scale": {"color": "independent", "strokeDash": "independent"}, "legend": {"color": "independent", "strokeDash": "independent"}},
  "hconcat": [
  {"width": 1, "height": 1, "view": {"fill": null, "stroke": null}, "data": {"values": []}, "mark": "rule", "encoding": {}},
  {"spacing": 26.5, "resolve": {"scale": {"color": "independent", "strokeDash": "independent"}, "legend": {"color": "independent", "strokeDash": "independent"}},
   "hconcat": [
   {"title": {"text": "MLP: MNIST", "fontSize": 17, "frame": "bounds", "anchor": "middle", "offset": 2}, "bounds": "flush",
    "resolve": {"scale": {"color": "independent", "strokeDash": "independent"}, "legend": {"color": "independent", "strokeDash": "independent"}},
    "vconcat": [{"width": 296, "height": 266, "title": {"text": "Accuracy", "fontSize": 14.5, "offset": 5},
     "data": {"name": "acc"}, "transform": [{"filter": "datum.net === 'MLP'"}],
     "mark": {"type": "line", "strokeWidth": 2, "clip": true},
     "encoding": {
      "x": {"field": "epoch", "type": "quantitative", "scale": {"domain": [-17.5, 367.5], "nice": false, "zero": false}, "axis": {"title": "Epoch", "values": [0, 100, 200, 300], "format": "d", "tickCount": 100, "labelOverlap": false, "labelFontSize": 13, "titleFontSize": 14, "labelPadding": 13, "titlePadding": 5}},
      "y": {"field": "value", "type": "quantitative", "scale": {"domain": [0.0445, 1.0455], "nice": false, "zero": false}, "axis": {"title": "Accuracy", "values": [0.2, 0.4, 0.6, 0.8, 1.0], "tickCount": 100, "format": ".1f", "labelFontSize": 13, "titleFontSize": 14, "labelPadding": 12, "titlePadding": 6.5, "minExtent": 33, "maxExtent": 33}},
      "color": {"field": "split", "type": "nominal", "scale": {"domain": ["train", "test"], "range": ["#4C72B0", "#DD8452"]}, "legend": {"title": "split", "orient": "bottom-right", "offset": 6, "titleFontSize": 14, "labelFontSize": 13.5, "titleAnchor": "middle", "symbolSize": 400, "symbolStrokeWidth": 2, "padding": 6, "titlePadding": 4}}
     }}]},
   {"title": {"text": "Convnet: MNIST", "fontSize": 17, "frame": "bounds", "anchor": "middle", "offset": 2}, "bounds": "flush",
    "resolve": {"scale": {"color": "independent", "strokeDash": "independent"}, "legend": {"color": "independent", "strokeDash": "independent"}},
    "vconcat": [{"width": 297, "height": 266, "title": {"text": "Accuracy", "fontSize": 14.5, "offset": 5},
     "data": {"name": "acc"}, "transform": [{"filter": "datum.net === 'Convnet'"}],
     "mark": {"type": "line", "strokeWidth": 2, "clip": true},
     "encoding": {
      "x": {"field": "epoch", "type": "quantitative", "scale": {"domain": [-17.5, 367.5], "nice": false, "zero": false}, "axis": {"title": "Epoch", "values": [0, 100, 200, 300], "format": "d", "tickCount": 100, "labelOverlap": false, "labelFontSize": 13, "titleFontSize": 14, "labelPadding": 13, "titlePadding": 5}},
      "y": {"field": "value", "type": "quantitative", "scale": {"domain": [0.0445, 1.0455], "nice": false, "zero": false}, "axis": {"title": "Accuracy", "values": [0.2, 0.4, 0.6, 0.8, 1.0], "tickCount": 100, "format": ".1f", "labelFontSize": 13, "titleFontSize": 14, "labelPadding": 12, "titlePadding": 6.5, "minExtent": 33, "maxExtent": 33}},
      "color": {"field": "split", "type": "nominal", "scale": {"domain": ["train", "test"], "range": ["#4C72B0", "#DD8452"]}, "legend": {"title": "split", "orient": "bottom-right", "offset": 6, "titleFontSize": 14, "labelFontSize": 13.5, "titleAnchor": "middle", "symbolSize": 400, "symbolStrokeWidth": 2, "padding": 6, "titlePadding": 4}}
     }}]},
   {"title": {"text": "Resnet18: MNIST", "fontSize": 17, "frame": "bounds", "anchor": "middle", "offset": 2}, "bounds": "flush",
    "resolve": {"scale": {"color": "independent", "strokeDash": "independent"}, "legend": {"color": "independent", "strokeDash": "independent"}},
    "vconcat": [{"width": 288, "height": 266, "title": {"text": "Accuracy", "fontSize": 14.5, "offset": 5},
     "data": {"name": "acc"}, "transform": [{"filter": "datum.net === 'Resnet18'"}],
     "mark": {"type": "line", "strokeWidth": 2, "clip": true},
     "encoding": {
      "x": {"field": "epoch", "type": "quantitative", "scale": {"domain": [-17.5, 357], "nice": false, "zero": false}, "axis": {"title": "Epoch", "values": [0, 100, 200, 300], "format": "d", "tickCount": 100, "labelOverlap": false, "labelFontSize": 13, "titleFontSize": 14, "labelPadding": 13, "titlePadding": 5}},
      "y": {"field": "value", "type": "quantitative", "scale": {"domain": [0.0445, 1.0455], "nice": false, "zero": false}, "axis": {"title": "Accuracy", "values": [0.2, 0.4, 0.6, 0.8, 1.0], "tickCount": 100, "format": ".1f", "labelFontSize": 13, "titleFontSize": 14, "labelPadding": 12, "titlePadding": 6.5, "minExtent": 33, "maxExtent": 33}},
      "color": {"field": "split", "type": "nominal", "scale": {"domain": ["train", "test"], "range": ["#4C72B0", "#DD8452"]}, "legend": {"title": "split", "orient": "bottom-right", "offset": 6, "titleFontSize": 14, "labelFontSize": 13.5, "titleAnchor": "middle", "symbolSize": 400, "symbolStrokeWidth": 2, "padding": 6, "titlePadding": 4}}
     }}]}
   ]}
  ]},
 {"spacing": 0, "hconcat": [
  {"width": 436, "height": 1, "view": {"fill": null, "stroke": null}, "data": {"values": []}, "mark": "rule", "encoding": {}},
  {"width": 250, "height": 30, "view": {"fill": null, "stroke": null}, "data": {"values": [{"text": "Accuracy per epochs"}]}, "mark": {"type": "text", "font": "Liberation Serif", "fontSize": 29, "color": "black"}, "encoding": {"text": {"field": "text"}}}
 ]}
 ]},
{"spacing": 9, "resolve": {"scale": {"color": "independent", "strokeDash": "independent"}, "legend": {"color": "independent", "strokeDash": "independent"}},
 "vconcat": [
 {"spacing": 7, "resolve": {"scale": {"color": "independent", "strokeDash": "independent"}, "legend": {"color": "independent", "strokeDash": "independent"}},
  "hconcat": [
  {"width": 1, "height": 1, "view": {"fill": null, "stroke": null}, "data": {"values": []}, "mark": "rule", "encoding": {}},
  {"spacing": 25.8, "resolve": {"scale": {"color": "independent", "strokeDash": "independent"}, "legend": {"color": "independent", "strokeDash": "independent"}},
   "hconcat": [
   {"title": {"text": "MLP: MNIST", "fontSize": 11.8, "frame": "bounds", "anchor": "middle", "offset": 0}, "bounds": "flush", "spacing": 6,
    "resolve": {"scale": {"color": "independent", "strokeDash": "independent"}, "legend": {"color": "independent", "strokeDash": "independent"}},
    "vconcat": [
    {"width": 307, "height": 116, "title": {"text": "Trace of covariances: Within- and between-class", "fontSize": 9.7, "offset": 2},
     "layer": [
      {"data": {"name": "trace_MLP"}, "mark": {"type": "line", "strokeWidth": 1.3, "clip": true},
       "encoding": {
        "x": {"field": "layer", "type": "quantitative", "scale": {"domain": [-0.5, 10.5], "nice": false, "zero": false}, "axis": {"title": null, "labels": false, "tickCount": 100, "values": [0,1,2,3,4,5,6,7,8,9,10]}},
        "y": {"field": "value", "type": "quantitative", "scale": {"type": "log", "domain": [0.000005, 1200], "nice": false}, "axis": {"title": "Trace", "values": [0.0001, 0.01, 1, 100], "tickCount": 100, "labelOverlap": false, "labelExpr": "'10' + (datum.value < 0.5 ? '⁻' : '') + ['⁰','¹','²','³','⁴','⁵'][round(abs(log(datum.value) / LN10))]", "labelFontSize": 9, "titleFontSize": 9.7, "labelPadding": 8, "titlePadding": 8.5, "minExtent": 25, "maxExtent": 25}},
        "color": {"field": "epoch", "type": "ordinal", "scale": {"domain": [10, 100, 350], "range": ["#EFC9C0", "#CF8C9D", "#2D1E3E"]}, "legend": {"title": "epoch", "orient": "none", "legendX": 4, "legendY": 3, "titleFontSize": 9, "labelFontSize": 8.5, "symbolSize": 150, "symbolStrokeWidth": 1.5, "padding": 3, "rowPadding": 0, "titlePadding": 1}},
        "strokeDash": {"field": "kind", "type": "nominal", "scale": {"domain": ["sum", "between", "within"], "range": [[1, 0], [4, 2], [1, 1.5]]}, "legend": {"title": "trace", "orient": "none", "legendX": 4, "legendY": 55, "titleFontSize": 9, "labelFontSize": 8.5, "symbolSize": 150, "symbolStrokeWidth": 1.5, "symbolStrokeColor": "#4A4A55", "padding": 3, "rowPadding": 0, "titlePadding": 1}}
       }},
      {"data": {"values": [{}]}, "mark": {"type": "rule", "color": "#55A868", "strokeDash": [5, 3], "strokeWidth": 1.5}, "encoding": {"x": {"datum": 3}}}
     ]},
    {"width": 307, "height": 116,
     "layer": [
      {"data": {"name": "rel_MLP"}, "mark": {"type": "line", "strokeWidth": 1.3, "clip": true},
       "encoding": {
        "x": {"field": "layer", "type": "quantitative", "scale": {"domain": [-0.5, 10.5], "nice": false, "zero": false}, "axis": {"title": "Layer", "values": [0,1,2,3,4,5,6,7,8,9,10], "format": "d", "tickCount": 100, "labelOverlap": false, "labelFontSize": 9, "titleFontSize": 9.7, "labelPadding": 6, "titlePadding": 4}},
        "y": {"field": "value", "type": "quantitative", "scale": {"type": "log", "domain": [0.00047, 1.3], "nice": false}, "axis": {"title": "Relative Trace", "values": [0.001, 0.01, 0.1, 1], "tickCount": 100, "labelOverlap": false, "labelExpr": "'10' + (datum.value < 0.5 ? '⁻' : '') + ['⁰','¹','²','³','⁴','⁵'][round(abs(log(datum.value) / LN10))]", "labelFontSize": 9, "titleFontSize": 9.7, "labelPadding": 8, "titlePadding": 8.5, "minExtent": 25, "maxExtent": 25}},
        "color": {"field": "epoch", "type": "ordinal", "scale": {"domain": [10, 100, 350], "range": ["#EFC9C0", "#CF8C9D", "#2D1E3E"]}, "legend": null},
        "strokeDash": {"field": "kind", "type": "nominal", "scale": {"domain": ["sum", "between", "within"], "range": [[1, 0], [4, 2], [1, 1.5]]}, "legend": null}
       }},
      {"data": {"values": [{}]}, "mark": {"type": "rule", "color": "#55A868", "strokeDash": [5, 3], "strokeWidth": 1.5}, "encoding": {"x": {"datum": 3}}}
     ]}
    ]},
   {"title": {"text": "Convnet: MNIST", "fontSize": 11.8, "frame": "bounds", "anchor": "middle", "offset": 0}, "bounds": "flush", "spacing": 6,
    "resolve": {"scale": {"color": "independent", "strokeDash": "independent"}, "legend": {"color": "independent", "strokeDash": "independent"}},
    "vconcat": [
    {"width": 307, "height": 116, "title": {"text": "Trace of covariances: Within- and between-class", "fontSize": 9.7, "offset": 2},
     "layer": [
      {"data": {"name": "trace_Convnet"}, "mark": {"type": "line", "strokeWidth": 1.3, "clip": true},
       "encoding": {
        "x": {"field": "layer", "type": "quantitative", "scale": {"domain": [-1, 21], "nice": false, "zero": false}, "axis": {"title": null, "labels": false, "tickCount": 100, "values": [0,1,2,3,4,5,6,7,8,9,10,11,12,13,14,15,16,17,18,19,20]}},
        "y": {"field": "value", "type": "quantitative", "scale": {"type": "log", "domain": [0.000012, 10000], "nice": false}, "axis": {"title": "Trace", "values": [0.001, 0.1, 10, 1000], "tickCount": 100, "labelOverlap": false, "labelExpr": "'10' + (datum.value < 0.5 ? '⁻' : '') + ['⁰','¹','²','³','⁴','⁵'][round(abs(log(datum.value) / LN10))]", "labelFontSize": 9, "titleFontSize": 9.7, "labelPadding": 8, "titlePadding": 8.5, "minExtent": 25, "maxExtent": 25}},
        "color": {"field": "epoch", "type": "ordinal", "scale": {"domain": [10, 100, 350], "range": ["#EFC9C0", "#CF8C9D", "#2D1E3E"]}, "legend": {"title": "epoch", "orient": "none", "legendX": 4, "legendY": 3, "titleFontSize": 9, "labelFontSize": 8.5, "symbolSize": 150, "symbolStrokeWidth": 1.5, "padding": 3, "rowPadding": 0, "titlePadding": 1}},
        "strokeDash": {"field": "kind", "type": "nominal", "scale": {"domain": ["sum", "between", "within"], "range": [[1, 0], [4, 2], [1, 1.5]]}, "legend": {"title": "trace", "orient": "none", "legendX": 4, "legendY": 55, "titleFontSize": 9, "labelFontSize": 8.5, "symbolSize": 150, "symbolStrokeWidth": 1.5, "symbolStrokeColor": "#4A4A55", "padding": 3, "rowPadding": 0, "titlePadding": 1}}
       }},
      {"data": {"values": [{}]}, "mark": {"type": "rule", "color": "#55A868", "strokeDash": [5, 3], "strokeWidth": 1.5}, "encoding": {"x": {"datum": 10}}}
     ]},
    {"width": 307, "height": 116,
     "layer": [
      {"data": {"name": "rel_Convnet"}, "mark": {"type": "line", "strokeWidth": 1.3, "clip": true},
       "encoding": {
        "x": {"field": "layer", "type": "quantitative", "scale": {"domain": [-1, 21], "nice": false, "zero": false}, "axis": {"title": "Layer", "values": [0,1,2,3,4,5,6,7,8,9,10,11,12,13,14,15,16,17,18,19,20], "format": "d", "tickCount": 100, "labelOverlap": false, "labelExpr": "datum.value % 2 === 0 ? datum.label : ''", "labelFontSize": 9, "titleFontSize": 9.7, "labelPadding": 6, "titlePadding": 4}},
        "y": {"field": "value", "type": "quantitative", "scale": {"type": "log", "domain": [0.0009, 1.3], "nice": false}, "axis": {"title": "Relative Trace", "values": [0.001, 0.01, 0.1, 1], "tickCount": 100, "labelOverlap": false, "labelExpr": "'10' + (datum.value < 0.5 ? '⁻' : '') + ['⁰','¹','²','³','⁴','⁵'][round(abs(log(datum.value) / LN10))]", "labelFontSize": 9, "titleFontSize": 9.7, "labelPadding": 8, "titlePadding": 8.5, "minExtent": 25, "maxExtent": 25}},
        "color": {"field": "epoch", "type": "ordinal", "scale": {"domain": [10, 100, 350], "range": ["#EFC9C0", "#CF8C9D", "#2D1E3E"]}, "legend": null},
        "strokeDash": {"field": "kind", "type": "nominal", "scale": {"domain": ["sum", "between", "within"], "range": [[1, 0], [4, 2], [1, 1.5]]}, "legend": null}
       }},
      {"data": {"values": [{}]}, "mark": {"type": "rule", "color": "#55A868", "strokeDash": [5, 3], "strokeWidth": 1.5}, "encoding": {"x": {"datum": 10}}}
     ]}
    ]},
   {"title": {"text": "Resnet18: MNIST", "fontSize": 11.8, "frame": "bounds", "anchor": "middle", "offset": 0}, "bounds": "flush", "spacing": 6,
    "resolve": {"scale": {"color": "independent", "strokeDash": "independent"}, "legend": {"color": "independent", "strokeDash": "independent"}},
    "vconcat": [
    {"width": 300, "height": 116, "title": {"text": "Trace of covariances: Within- and between-class", "fontSize": 9.7, "offset": 2},
     "layer": [
      {"data": {"name": "trace_Resnet18"}, "mark": {"type": "line", "strokeWidth": 1.3, "clip": true},
       "encoding": {
        "x": {"field": "layer", "type": "quantitative", "scale": {"domain": [-0.85, 17.25], "nice": false, "zero": false}, "axis": {"title": null, "labels": false, "tickCount": 100, "values": [0,1,2,3,4,5,6,7,8,9,10,11,12,13,14,15,16,17]}},
        "y": {"field": "value", "type": "quantitative", "scale": {"type": "log", "domain": [0.000023, 4400], "nice": false}, "axis": {"title": "Trace", "values": [0.001, 0.1, 10, 1000], "tickCount": 100, "labelOverlap": false, "labelExpr": "'10' + (datum.value < 0.5 ? '⁻' : '') + ['⁰','¹','²','³','⁴','⁵'][round(abs(log(datum.value) / LN10))]", "labelFontSize": 9, "titleFontSize": 9.7, "labelPadding": 8, "titlePadding": 8.5, "minExtent": 25, "maxExtent": 25}},
        "color": {"field": "epoch", "type": "ordinal", "scale": {"domain": [10, 100, 350], "range": ["#EFC9C0", "#CF8C9D", "#2D1E3E"]}, "legend": {"title": "epoch", "orient": "none", "legendX": 4, "legendY": 3, "titleFontSize": 9, "labelFontSize": 8.5, "symbolSize": 150, "symbolStrokeWidth": 1.5, "padding": 3, "rowPadding": 0, "titlePadding": 1}},
        "strokeDash": {"field": "kind", "type": "nominal", "scale": {"domain": ["sum", "between", "within"], "range": [[1, 0], [4, 2], [1, 1.5]]}, "legend": {"title": "trace", "orient": "none", "legendX": 4, "legendY": 55, "titleFontSize": 9, "labelFontSize": 8.5, "symbolSize": 150, "symbolStrokeWidth": 1.5, "symbolStrokeColor": "#4A4A55", "padding": 3, "rowPadding": 0, "titlePadding": 1}}
       }},
      {"data": {"values": [{}]}, "mark": {"type": "rule", "color": "#55A868", "strokeDash": [5, 3], "strokeWidth": 1.5}, "encoding": {"x": {"datum": 7}}}
     ]},
    {"width": 300, "height": 116,
     "layer": [
      {"data": {"name": "rel_Resnet18"}, "mark": {"type": "line", "strokeWidth": 1.3, "clip": true},
       "encoding": {
        "x": {"field": "layer", "type": "quantitative", "scale": {"domain": [-0.85, 17.25], "nice": false, "zero": false}, "axis": {"title": "Layer", "values": [0,1,2,3,4,5,6,7,8,9,10,11,12,13,14,15,16,17], "format": "d", "tickCount": 100, "labelOverlap": false, "labelExpr": "datum.value % 2 === 0 ? datum.label : ''", "labelFontSize": 9, "titleFontSize": 9.7, "labelPadding": 6, "titlePadding": 4}},
        "y": {"field": "value", "type": "quantitative", "scale": {"type": "log", "domain": [0.000085, 1.4], "nice": false}, "axis": {"title": "Relative Trace", "values": [0.0001, 0.001, 0.01, 0.1, 1], "tickCount": 100, "labelOverlap": false, "labelExpr": "'10' + (datum.value < 0.5 ? '⁻' : '') + ['⁰','¹','²','³','⁴','⁵'][round(abs(log(datum.value) / LN10))]", "labelFontSize": 9, "titleFontSize": 9.7, "labelPadding": 8, "titlePadding": 8.5, "minExtent": 25, "maxExtent": 25}},
        "color": {"field": "epoch", "type": "ordinal", "scale": {"domain": [10, 100, 350], "range": ["#EFC9C0", "#CF8C9D", "#2D1E3E"]}, "legend": null},
        "strokeDash": {"field": "kind", "type": "nominal", "scale": {"domain": ["sum", "between", "within"], "range": [[1, 0], [4, 2], [1, 1.5]]}, "legend": null}
       }},
      {"data": {"values": [{}]}, "mark": {"type": "rule", "color": "#55A868", "strokeDash": [5, 3], "strokeWidth": 1.5}, "encoding": {"x": {"datum": 7}}}
     ]}
    ]}
   ]}
  ]},
 {"spacing": 0, "hconcat": [
  {"width": 402, "height": 1, "view": {"fill": null, "stroke": null}, "data": {"values": []}, "mark": "rule", "encoding": {}},
  {"width": 254, "height": 29, "view": {"fill": null, "stroke": null}, "data": {"values": [{"text": "Traces (NC1, see eq."}]}, "mark": {"type": "text", "font": "Liberation Serif", "fontSize": 29, "color": "black"}, "encoding": {"text": {"field": "text"}}},
  {"width": 51, "height": 29, "view": {"fill": null, "stroke": "#FF0000", "strokeWidth": 2}, "data": {"values": [{"text": "2.18"}]}, "mark": {"type": "text", "font": "Liberation Serif", "fontSize": 28, "color": "black"}, "encoding": {"text": {"field": "text"}}},
  {"width": 12, "height": 29, "view": {"fill": null, "stroke": null}, "data": {"values": [{"text": ")"}]}, "mark": {"type": "text", "font": "Liberation Serif", "fontSize": 29, "color": "black"}, "encoding": {"text": {"field": "text"}}}
 ]}
 ]},
{"spacing": 12, "resolve": {"scale": {"color": "independent", "strokeDash": "independent"}, "legend": {"color": "independent", "strokeDash": "independent"}},
 "vconcat": [
 {"spacing": 7, "resolve": {"scale": {"color": "independent", "strokeDash": "independent"}, "legend": {"color": "independent", "strokeDash": "independent"}},
  "hconcat": [
  {"width": 1, "height": 1, "view": {"fill": null, "stroke": null}, "data": {"values": []}, "mark": "rule", "encoding": {}},
  {"spacing": 25, "resolve": {"scale": {"color": "independent", "strokeDash": "independent"}, "legend": {"color": "independent", "strokeDash": "independent"}},
   "hconcat": [
   {"title": {"text": "MLP: MNIST", "fontSize": 17.5, "frame": "bounds", "anchor": "middle", "offset": 1.5}, "bounds": "flush",
    "resolve": {"scale": {"color": "independent", "strokeDash": "independent"}, "legend": {"color": "independent", "strokeDash": "independent"}},
    "vconcat": [{"width": 286, "height": 267, "title": {"text": "CDNV", "fontSize": 14.3, "offset": 3.5},
     "layer": [
      {"data": {"name": "cdnv"}, "transform": [{"filter": "datum.net === 'MLP'"}], "mark": {"type": "line", "strokeWidth": 2, "clip": true},
       "encoding": {
        "x": {"field": "layer", "type": "quantitative", "scale": {"domain": [-0.5, 10.5], "nice": false, "zero": false}, "axis": {"title": "Layer", "values": [0,1,2,3,4,5,6,7,8,9,10], "format": "d", "tickCount": 100, "labelOverlap": false, "labelFontSize": 15, "titleFontSize": 14.3, "labelPadding": 8.5, "titlePadding": 5}},
        "y": {"field": "value", "type": "quantitative", "scale": {"type": "log", "domain": [0.0002, 3.3], "nice": false}, "axis": {"title": "CDNV", "values": [0.001, 0.01, 0.1, 1], "tickCount": 100, "labelOverlap": false, "labelExpr": "'10' + (datum.value < 0.5 ? '⁻' : '') + ['⁰','¹','²','³','⁴','⁵'][round(abs(log(datum.value) / LN10))]", "labelFontSize": 15, "titleFontSize": 14.3, "labelPadding": 12, "titlePadding": 8, "minExtent": 43, "maxExtent": 43}},
        "color": {"field": "epoch", "type": "ordinal", "scale": {"domain": [10, 100, 350], "range": ["#EFC9C0", "#CF8C9D", "#2D1E3E"]}, "legend": {"title": "epoch", "orient": "top-right", "offset": 5, "titleFontSize": 14.5, "labelFontSize": 14, "titleAnchor": "middle", "symbolSize": 324, "symbolStrokeWidth": 2, "padding": 6, "titlePadding": 3}}
       }},
      {"data": {"values": [{}]}, "mark": {"type": "rule", "color": "#55A868", "strokeDash": [6, 3], "strokeWidth": 1.8}, "encoding": {"x": {"datum": 3}}}
     ]}]},
   {"title": {"text": "Convnet: MNIST", "fontSize": 17.5, "frame": "bounds", "anchor": "middle", "offset": 1.5}, "bounds": "flush",
    "resolve": {"scale": {"color": "independent", "strokeDash": "independent"}, "legend": {"color": "independent", "strokeDash": "independent"}},
    "vconcat": [{"width": 287, "height": 267, "title": {"text": "CDNV", "fontSize": 14.3, "offset": 3.5},
     "layer": [
      {"data": {"name": "cdnv"}, "transform": [{"filter": "datum.net === 'Convnet'"}], "mark": {"type": "line", "strokeWidth": 2, "clip": true},
       "encoding": {
        "x": {"field": "layer", "type": "quantitative", "scale": {"domain": [-1, 21], "nice": false, "zero": false}, "axis": {"title": "Layer", "values": [0,1,2,3,4,5,6,7,8,9,10,11,12,13,14,15,16,17,18,19,20], "format": "d", "tickCount": 100, "labelOverlap": false, "labelExpr": "datum.value % 2 === 0 ? datum.label : ''", "labelFontSize": 15, "titleFontSize": 14.3, "labelPadding": 8.5, "titlePadding": 5}},
        "y": {"field": "value", "type": "quantitative", "scale": {"type": "log", "domain": [0.00035, 4.2], "nice": false}, "axis": {"title": "CDNV", "values": [0.001, 0.01, 0.1, 1], "tickCount": 100, "labelOverlap": false, "labelExpr": "'10' + (datum.value < 0.5 ? '⁻' : '') + ['⁰','¹','²','³','⁴','⁵'][round(abs(log(datum.value) / LN10))]", "labelFontSize": 15, "titleFontSize": 14.3, "labelPadding": 12, "titlePadding": 8, "minExtent": 43, "maxExtent": 43}},
        "color": {"field": "epoch", "type": "ordinal", "scale": {"domain": [10, 100, 350], "range": ["#EFC9C0", "#CF8C9D", "#2D1E3E"]}, "legend": {"title": "epoch", "orient": "top-right", "offset": 5, "titleFontSize": 14.5, "labelFontSize": 14, "titleAnchor": "middle", "symbolSize": 324, "symbolStrokeWidth": 2, "padding": 6, "titlePadding": 3}}
       }},
      {"data": {"values": [{}]}, "mark": {"type": "rule", "color": "#55A868", "strokeDash": [6, 3], "strokeWidth": 1.8}, "encoding": {"x": {"datum": 10}}}
     ]}]},
   {"title": {"text": "Resnet18: MNIST", "fontSize": 17.5, "frame": "bounds", "anchor": "middle", "offset": 1.5}, "bounds": "flush",
    "resolve": {"scale": {"color": "independent", "strokeDash": "independent"}, "legend": {"color": "independent", "strokeDash": "independent"}},
    "vconcat": [{"width": 277, "height": 267, "title": {"text": "CDNV", "fontSize": 14.3, "offset": 3.5},
     "layer": [
      {"data": {"name": "cdnv"}, "transform": [{"filter": "datum.net === 'Resnet18'"}], "mark": {"type": "line", "strokeWidth": 2, "clip": true},
       "encoding": {
        "x": {"field": "layer", "type": "quantitative", "scale": {"domain": [-0.85, 17.35], "nice": false, "zero": false}, "axis": {"title": "Layer", "values": [0,1,2,3,4,5,6,7,8,9,10,11,12,13,14,15,16,17], "format": "d", "tickCount": 100, "labelOverlap": false, "labelExpr": "datum.value % 2 === 0 ? datum.label : ''", "labelFontSize": 15, "titleFontSize": 14.3, "labelPadding": 8.5, "titlePadding": 5}},
        "y": {"field": "value", "type": "quantitative", "scale": {"type": "log", "domain": [0.000038, 2.3], "nice": false}, "axis": {"title": "CDNV", "values": [0.0001, 0.001, 0.01, 0.1, 1], "tickCount": 100, "labelOverlap": false, "labelExpr": "'10' + (datum.value < 0.5 ? '⁻' : '') + ['⁰','¹','²','³','⁴','⁵'][round(abs(log(datum.value) / LN10))]", "labelFontSize": 15, "titleFontSize": 14.3, "labelPadding": 12, "titlePadding": 8, "minExtent": 43, "maxExtent": 43}},
        "color": {"field": "epoch", "type": "ordinal", "scale": {"domain": [10, 100, 350], "range": ["#EFC9C0", "#CF8C9D", "#2D1E3E"]}, "legend": {"title": "epoch", "orient": "bottom-left", "offset": 6, "titleFontSize": 14.5, "labelFontSize": 14, "titleAnchor": "middle", "symbolSize": 324, "symbolStrokeWidth": 2, "padding": 6, "titlePadding": 3}}
       }},
      {"data": {"values": [{}]}, "mark": {"type": "rule", "color": "#55A868", "strokeDash": [6, 3], "strokeWidth": 1.8}, "encoding": {"x": {"datum": 7}}}
     ]}]}
   ]}
  ]},
 {"spacing": 0, "hconcat": [
  {"width": 389, "height": 1, "view": {"fill": null, "stroke": null}, "data": {"values": []}, "mark": "rule", "encoding": {}},
  {"width": 219, "height": 30, "view": {"fill": null, "stroke": null}, "data": {"values": [{"text": "CDNV (NC1, see ["}]}, "mark": {"type": "text", "font": "Liberation Serif", "fontSize": 29, "color": "black"}, "encoding": {"text": {"field": "text"}}},
  {"width": 34, "height": 30, "view": {"fill": null, "stroke": "#00FF00", "strokeWidth": 2}, "data": {"values": [{"text": "87"}]}, "mark": {"type": "text", "font": "Liberation Serif", "fontSize": 28, "color": "black"}, "encoding": {"text": {"field": "text"}}},
  {"width": 89, "height": 30, "view": {"fill": null, "stroke": null}, "data": {"values": [{"text": "] sec. 3)"}]}, "mark": {"type": "text", "font": "Liberation Serif", "fontSize": 29, "color": "black"}, "encoding": {"text": {"field": "text"}}}
 ]}
 ]},
{"spacing": 10, "resolve": {"scale": {"color": "independent", "strokeDash": "independent"}, "legend": {"color": "independent", "strokeDash": "independent"}},
 "vconcat": [
 {"spacing": 7, "resolve": {"scale": {"color": "independent", "strokeDash": "independent"}, "legend": {"color": "independent", "strokeDash": "independent"}},
  "hconcat": [
  {"width": 1, "height": 1, "view": {"fill": null, "stroke": null}, "data": {"values": []}, "mark": "rule", "encoding": {}},
  {"spacing": 26, "resolve": {"scale": {"color": "independent", "strokeDash": "independent"}, "legend": {"color": "independent", "strokeDash": "independent"}},
   "hconcat": [
   {"title": {"text": "MLP: MNIST", "fontSize": 12, "frame": "bounds", "anchor": "middle", "offset": 1}, "bounds": "flush", "spacing": 21,
    "resolve": {"scale": {"color": "independent", "strokeDash": "independent"}, "legend": {"color": "independent", "strokeDash": "independent"}},
    "vconcat": [
    {"width": 311, "height": 84, "title": {"text": "Mean of 1/(1 − C) + cos(μᵢ, μⱼ)", "fontSize": 10, "offset": 2},
     "layer": [
      {"data": {"name": "etf_MLP"}, "transform": [{"filter": "datum.metric === 'mean'"}], "mark": {"type": "line", "strokeWidth": 1.4, "clip": true},
       "encoding": {
        "x": {"field": "layer", "type": "quantitative", "scale": {"domain": [-0.5, 10.5], "nice": false, "zero": false}, "axis": {"title": null, "labels": false, "tickCount": 100, "values": [0,1,2,3,4,5,6,7,8,9,10]}},
        "y": {"field": "value", "type": "quantitative", "scale": {"domain": [-0.0002, 0.0084], "nice": false, "zero": false}, "axis": {"title": null, "values": [0, 0.0025, 0.005, 0.0075], "tickCount": 100, "labelOverlap": false, "labelExpr": "replace(format(datum.value, '.4f'), '.', ',')", "labelFontSize": 9, "labelPadding": 9}},
        "color": {"field": "epoch", "type": "ordinal", "scale": {"domain": [10, 100, 350], "range": ["#EFC9C0", "#CF8C9D", "#2D1E3E"]}, "legend": null}
       }},
      {"data": {"values": [{}]}, "mark": {"type": "rule", "color": "#55A868", "strokeDash": [4, 3], "strokeWidth": 1.3}, "encoding": {"x": {"datum": 3}}}
     ]},
    {"width": 311, "height": 84, "title": {"text": "Std of 1/(1 − C) + cos(μᵢ, μⱼ)", "fontSize": 10, "offset": 2},
     "layer": [
      {"data": {"name": "etf_MLP"}, "transform": [{"filter": "datum.metric === 'std'"}], "mark": {"type": "line", "strokeWidth": 1.4, "clip": true},
       "encoding": {
        "x": {"field": "layer", "type": "quantitative", "scale": {"domain": [-0.5, 10.5], "nice": false, "zero": false}, "axis": {"title": null, "labels": false, "tickCount": 100, "values": [0,1,2,3,4,5,6,7,8,9,10]}},
        "y": {"field": "value", "type": "quantitative", "scale": {"domain": [-0.0045, 0.2705], "nice": false, "zero": false}, "axis": {"title": null, "values": [0, 0.1, 0.2], "tickCount": 100, "labelOverlap": false, "labelExpr": "replace(format(datum.value, '.1f'), '.', ',')", "labelFontSize": 9, "labelPadding": 9}},
        "color": {"field": "epoch", "type": "ordinal", "scale": {"domain": [10, 100, 350], "range": ["#EFC9C0", "#CF8C9D", "#2D1E3E"]}, "legend": {"title": "epoch", "orient": "top-right", "offset": 5, "titleFontSize": 9.5, "labelFontSize": 9, "titleAnchor": "middle", "symbolSize": 150, "symbolStrokeWidth": 1.5, "padding": 3, "rowPadding": 0, "titlePadding": 1}}
       }},
      {"data": {"values": [{}]}, "mark": {"type": "rule", "color": "#55A868", "strokeDash": [4, 3], "strokeWidth": 1.3}, "encoding": {"x": {"datum": 3}}}
     ]},
    {"width": 311, "height": 84, "title": {"text": "Relative std of |μᵢ|₂", "fontSize": 10, "offset": 2},
     "layer": [
      {"data": {"name": "etf_MLP"}, "transform": [{"filter": "datum.metric === 'rel'"}], "mark": {"type": "line", "strokeWidth": 1.4, "clip": true},
       "encoding": {
        "x": {"field": "layer", "type": "quantitative", "scale": {"domain": [-0.5, 10.5], "nice": false, "zero": false}, "axis": {"title": "Layer", "values": [0,1,2,3,4,5,6,7,8,9,10], "format": "d", "tickCount": 100, "labelOverlap": false, "labelFontSize": 9, "titleFontSize": 10, "labelPadding": 7, "titlePadding": 4}},
        "y": {"field": "value", "type": "quantitative", "scale": {"domain": [0.0065, 0.2375], "nice": false, "zero": false}, "axis": {"title": null, "values": [0.1, 0.2], "tickCount": 100, "labelOverlap": false, "labelExpr": "replace(format(datum.value, '.1f'), '.', ',')", "labelFontSize": 9, "labelPadding": 9}},
        "color": {"field": "epoch", "type": "ordinal", "scale": {"domain": [10, 100, 350], "range": ["#EFC9C0", "#CF8C9D", "#2D1E3E"]}, "legend": null}
       }},
      {"data": {"values": [{}]}, "mark": {"type": "rule", "color": "#55A868", "strokeDash": [4, 3], "strokeWidth": 1.3}, "encoding": {"x": {"datum": 3}}}
     ]}
    ]},
   {"title": {"text": "Convnet: MNIST", "fontSize": 12, "frame": "bounds", "anchor": "middle", "offset": 1}, "bounds": "flush", "spacing": 21,
    "resolve": {"scale": {"color": "independent", "strokeDash": "independent"}, "legend": {"color": "independent", "strokeDash": "independent"}},
    "vconcat": [
    {"width": 321, "height": 84, "title": {"text": "Mean of 1/(1 − C) + cos(μᵢ, μⱼ)", "fontSize": 10, "offset": 2},
     "layer": [
      {"data": {"name": "etf_Convnet"}, "transform": [{"filter": "datum.metric === 'mean'"}], "mark": {"type": "line", "strokeWidth": 1.4, "clip": true},
       "encoding": {
        "x": {"field": "layer", "type": "quantitative", "scale": {"domain": [-1, 21], "nice": false, "zero": false}, "axis": {"title": null, "labels": false, "tickCount": 100, "values": [0,1,2,3,4,5,6,7,8,9,10,11,12,13,14,15,16,17,18,19,20]}},
        "y": {"field": "value", "type": "quantitative", "scale": {"domain": [-0.0011, 0.0245], "nice": false, "zero": false}, "axis": {"title": null, "values": [0, 0.01, 0.02], "tickCount": 100, "labelOverlap": false, "format": ".2f", "labelFontSize": 9, "labelPadding": 9}},
        "color": {"field": "epoch", "type": "ordinal", "scale": {"domain": [10, 100, 350], "range": ["#EFC9C0", "#CF8C9D", "#2D1E3E"]}, "legend": null}
       }},
      {"data": {"values": [{}]}, "mark": {"type": "rule", "color": "#55A868", "strokeDash": [4, 3], "strokeWidth": 1.3}, "encoding": {"x": {"datum": 10}}}
     ]},
    {"width": 321, "height": 84, "title": {"text": "Std of 1/(1 − C) + cos(μᵢ, μⱼ)", "fontSize": 10, "offset": 2},
     "layer": [
      {"data": {"name": "etf_Convnet"}, "transform": [{"filter": "datum.metric === 'std'"}], "mark": {"type": "line", "strokeWidth": 1.4, "clip": true},
       "encoding": {
        "x": {"field": "layer", "type": "quantitative", "scale": {"domain": [-1, 21], "nice": false, "zero": false}, "axis": {"title": null, "labels": false, "tickCount": 100, "values": [0,1,2,3,4,5,6,7,8,9,10,11,12,13,14,15,16,17,18,19,20]}},
        "y": {"field": "value", "type": "quantitative", "scale": {"domain": [0.0074, 0.2846], "nice": false, "zero": false}, "axis": {"title": null, "values": [0.1, 0.2], "tickCount": 100, "labelOverlap": false, "format": ".1f", "labelFontSize": 9, "labelPadding": 9}},
        "color": {"field": "epoch", "type": "ordinal", "scale": {"domain": [10, 100, 350], "range": ["#EFC9C0", "#CF8C9D", "#2D1E3E"]}, "legend": {"title": "epoch", "orient": "bottom-left", "offset": 5, "titleFontSize": 9.5, "labelFontSize": 9, "titleAnchor": "middle", "symbolSize": 150, "symbolStrokeWidth": 1.5, "padding": 3, "rowPadding": 0, "titlePadding": 1}}
       }},
      {"data": {"values": [{}]}, "mark": {"type": "rule", "color": "#55A868", "strokeDash": [4, 3], "strokeWidth": 1.3}, "encoding": {"x": {"datum": 10}}}
     ]},
    {"width": 321, "height": 84, "title": {"text": "Relative std of |μᵢ|₂", "fontSize": 10, "offset": 2},
     "layer": [
      {"data": {"name": "etf_Convnet"}, "transform": [{"filter": "datum.metric === 'rel'"}], "mark": {"type": "line", "strokeWidth": 1.4, "clip": true},
       "encoding": {
        "x": {"field": "layer", "type": "quantitative", "scale": {"domain": [-1, 21], "nice": false, "zero": false}, "axis": {"title": "Layer", "values": [0,1,2,3,4,5,6,7,8,9,10,11,12,13,14,15,16,17,18,19,20], "format": "d", "tickCount": 100, "labelOverlap": false, "labelExpr": "datum.value % 2 === 0 ? datum.label : ''", "labelFontSize": 9, "titleFontSize": 10, "labelPadding": 7, "titlePadding": 4}},
        "y": {"field": "value", "type": "quantitative", "scale": {"domain": [0.01, 0.345], "nice": false, "zero": false}, "axis": {"title": null, "values": [0.1, 0.2, 0.3], "tickCount": 100, "labelOverlap": false, "format": ".1f", "labelFontSize": 9, "labelPadding": 9}},
        "color": {"field": "epoch", "type": "ordinal", "scale": {"domain": [10, 100, 350], "range": ["#EFC9C0", "#CF8C9D", "#2D1E3E"]}, "legend": null}
       }},
      {"data": {"values": [{}]}, "mark": {"type": "rule", "color": "#55A868", "strokeDash": [4, 3], "strokeWidth": 1.3}, "encoding": {"x": {"datum": 10}}}
     ]}
    ]},
   {"title": {"text": "Resnet18: MNIST", "fontSize": 12, "frame": "bounds", "anchor": "middle", "offset": 1}, "bounds": "flush", "spacing": 21,
    "resolve": {"scale": {"color": "independent", "strokeDash": "independent"}, "legend": {"color": "independent", "strokeDash": "independent"}},
    "vconcat": [
    {"width": 307, "height": 84, "title": {"text": "Mean of 1/(1 − C) + cos(μᵢ, μⱼ)", "fontSize": 10, "offset": 2},
     "layer": [
      {"data": {"name": "etf_Resnet18"}, "transform": [{"filter": "datum.metric === 'mean'"}], "mark": {"type": "line", "strokeWidth": 1.4, "clip": true},
       "encoding": {
        "x": {"field": "layer", "type": "quantitative", "scale": {"domain": [-0.85, 17.2], "nice": false, "zero": false}, "axis": {"title": null, "labels": false, "tickCount": 100, "values": [0,1,2,3,4,5,6,7,8,9,10,11,12,13,14,15,16,17]}},
        "y": {"field": "value", "type": "quantitative", "scale": {"domain": [-0.0004, 0.01065], "nice": false, "zero": false}, "axis": {"title": null, "values": [0, 0.005, 0.01], "tickCount": 100, "labelOverlap": false, "format": ".3f", "labelFontSize": 9, "labelPadding": 9}},
        "color": {"field": "epoch", "type": "ordinal", "scale": {"domain": [10, 100, 350], "range": ["#EFC9C0", "#CF8C9D", "#2D1E3E"]}, "legend": null}
       }},
      {"data": {"values": [{}]}, "mark": {"type": "rule", "color": "#55A868", "strokeDash": [4, 3], "strokeWidth": 1.3}, "encoding": {"x": {"datum": 7}}}
     ]},
    {"width": 307, "height": 84, "title": {"text": "Std of 1/(1 − C) + cos(μᵢ, μⱼ)", "fontSize": 10, "offset": 2},
     "layer": [
      {"data": {"name": "etf_Resnet18"}, "transform": [{"filter": "datum.metric === 'std'"}], "mark": {"type": "line", "strokeWidth": 1.4, "clip": true},
       "encoding": {
        "x": {"field": "layer", "type": "quantitative", "scale": {"domain": [-0.85, 17.2], "nice": false, "zero": false}, "axis": {"title": null, "labels": false, "tickCount": 100, "values": [0,1,2,3,4,5,6,7,8,9,10,11,12,13,14,15,16,17]}},
        "y": {"field": "value", "type": "quantitative", "scale": {"domain": [-0.006, 0.3075], "nice": false, "zero": false}, "axis": {"title": null, "values": [0, 0.1, 0.2, 0.3], "tickCount": 100, "labelOverlap": false, "format": ".1f", "labelFontSize": 9, "labelPadding": 9}},
        "color": {"field": "epoch", "type": "ordinal", "scale": {"domain": [10, 100, 350], "range": ["#EFC9C0", "#CF8C9D", "#2D1E3E"]}, "legend": {"title": "epoch", "orient": "bottom-left", "offset": 3, "titleFontSize": 9.5, "labelFontSize": 9, "titleAnchor": "middle", "symbolSize": 150, "symbolStrokeWidth": 1.5, "padding": 3, "rowPadding": 0, "titlePadding": 1}}
       }},
      {"data": {"values": [{}]}, "mark": {"type": "rule", "color": "#55A868", "strokeDash": [4, 3], "strokeWidth": 1.3}, "encoding": {"x": {"datum": 7}}}
     ]},
    {"width": 307, "height": 84, "title": {"text": "Relative std of |μᵢ|₂", "fontSize": 10, "offset": 2},
     "layer": [
      {"data": {"name": "etf_Resnet18"}, "transform": [{"filter": "datum.metric === 'rel'"}], "mark": {"type": "line", "strokeWidth": 1.4, "clip": true},
       "encoding": {
        "x": {"field": "layer", "type": "quantitative", "scale": {"domain": [-0.85, 17.2], "nice": false, "zero": false}, "axis": {"title": "Layer", "values": [0,1,2,3,4,5,6,7,8,9,10,11,12,13,14,15,16,17], "format": "d", "tickCount": 100, "labelOverlap": false, "labelExpr": "datum.value % 2 === 0 ? datum.label : ''", "labelFontSize": 9, "titleFontSize": 10, "labelPadding": 7, "titlePadding": 4}},
        "y": {"field": "value", "type": "quantitative", "scale": {"domain": [0.004, 0.254], "nice": false, "zero": false}, "axis": {"title": null, "values": [0.1, 0.2], "tickCount": 100, "labelOverlap": false, "format": ".1f", "labelFontSize": 9, "labelPadding": 9}},
        "color": {"field": "epoch", "type": "ordinal", "scale": {"domain": [10, 100, 350], "range": ["#EFC9C0", "#CF8C9D", "#2D1E3E"]}, "legend": null}
       }},
      {"data": {"values": [{}]}, "mark": {"type": "rule", "color": "#55A868", "strokeDash": [4, 3], "strokeWidth": 1.3}, "encoding": {"x": {"datum": 7}}}
     ]}
    ]}
   ]}
  ]},
 {"spacing": 0, "hconcat": [
  {"width": 265, "height": 1, "view": {"fill": null, "stroke": null}, "data": {"values": []}, "mark": "rule", "encoding": {}},
  {"width": 360, "height": 29, "view": {"fill": null, "stroke": null}, "data": {"values": [{"text": "Activation ETF (NC2, see eq."}]}, "mark": {"type": "text", "font": "Liberation Serif", "fontSize": 29, "color": "black"}, "encoding": {"text": {"field": "text"}}},
  {"width": 51, "height": 29, "view": {"fill": null, "stroke": "#FF0000", "strokeWidth": 2}, "data": {"values": [{"text": "2.19"}]}, "mark": {"type": "text", "font": "Liberation Serif", "fontSize": 28, "color": "black"}, "encoding": {"text": {"field": "text"}}},
  {"width": 12, "height": 29, "view": {"fill": null, "stroke": null}, "data": {"values": [{"text": ","}]}, "mark": {"type": "text", "font": "Liberation Serif", "fontSize": 29, "color": "black"}, "encoding": {"text": {"field": "text"}}},
  {"width": 52, "height": 29, "view": {"fill": null, "stroke": "#FF0000", "strokeWidth": 2}, "data": {"values": [{"text": "2.20"}]}, "mark": {"type": "text", "font": "Liberation Serif", "fontSize": 28, "color": "black"}, "encoding": {"text": {"field": "text"}}},
  {"width": 56, "height": 29, "view": {"fill": null, "stroke": null}, "data": {"values": [{"text": "and"}]}, "mark": {"type": "text", "font": "Liberation Serif", "fontSize": 29, "color": "black"}, "encoding": {"text": {"field": "text"}}},
  {"width": 51, "height": 29, "view": {"fill": null, "stroke": "#FF0000", "strokeWidth": 2}, "data": {"values": [{"text": "2.21"}]}, "mark": {"type": "text", "font": "Liberation Serif", "fontSize": 28, "color": "black"}, "encoding": {"text": {"field": "text"}}},
  {"width": 10, "height": 29, "view": {"fill": null, "stroke": null}, "data": {"values": [{"text": ")"}]}, "mark": {"type": "text", "font": "Liberation Serif", "fontSize": 29, "color": "black"}, "encoding": {"text": {"field": "text"}}}
 ]}
 ]}
],
"config": {
 "font": "DejaVu Sans",
 "view": {"fill": "#EAEAF2", "stroke": null},
 "axis": {"domain": false, "ticks": false, "tickSize": 0, "grid": true, "gridColor": "#FFFFFF", "gridWidth": 1, "labelColor": "#262626", "titleColor": "#262626", "titleFontWeight": "normal", "labelFont": "DejaVu Sans", "titleFont": "DejaVu Sans", "labelOverlap": false, "labelFlush": false},
 "axisX": {"labelOverlap": false},
 "title": {"font": "DejaVu Sans", "fontWeight": "normal", "color": "#262626", "anchor": "middle"},
 "legend": {"labelColor": "#262626", "titleColor": "#262626", "titleFontWeight": "normal", "labelFont": "DejaVu Sans", "titleFont": "DejaVu Sans", "fillColor": "rgba(241,241,246,0.85)", "strokeColor": "#CCCCCC", "cornerRadius": 3, "symbolType": "stroke"}
}
}
